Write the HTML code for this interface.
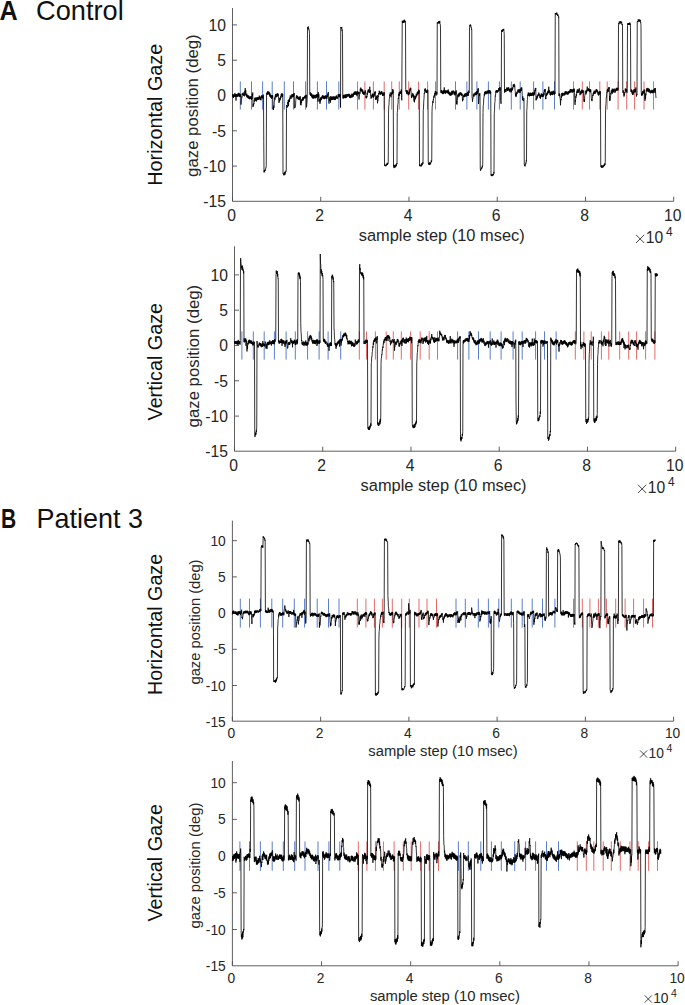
<!DOCTYPE html>
<html><head><meta charset="utf-8"><title>Gaze traces</title>
<style>
html,body{margin:0;padding:0;background:#fff;}
body{width:685px;height:1005px;overflow:hidden;font-family:"Liberation Sans",sans-serif;}
svg{display:block;}
text{font-family:"Liberation Sans",sans-serif;}
</style></head><body>
<svg width="685" height="1005" viewBox="0 0 685 1005">
<rect width="685" height="1005" fill="#fff"/>
<text x="-0.4" y="20.1" font-size="27.5" font-weight="bold" fill="#111" textLength="18.2" lengthAdjust="spacingAndGlyphs">A</text>
<text x="36.1" y="20.1" font-size="28" fill="#111" textLength="87.6" lengthAdjust="spacingAndGlyphs">Control</text>
<text x="1.1" y="527.6" font-size="27" font-weight="bold" fill="#111" textLength="15.2" lengthAdjust="spacingAndGlyphs">B</text>
<text x="36.5" y="527.6" font-size="27.5" fill="#111" textLength="106.4" lengthAdjust="spacingAndGlyphs">Patient 3</text>
<g id="p1">
<path d="M232.50,8.00 V201.30 H673.70" fill="none" stroke="#4d4d4d" stroke-width="0.9"/>
<path d="M232.50,24.90 h4.5 M232.50,60.20 h4.5 M232.50,95.50 h4.5 M232.50,130.80 h4.5 M232.50,166.10 h4.5 M232.50,201.30 v-4.5 M320.74,201.30 v-4.5 M408.98,201.30 v-4.5 M497.22,201.30 v-4.5 M585.46,201.30 v-4.5 M673.70,201.30 v-4.5 " fill="none" stroke="#4d4d4d" stroke-width="0.9"/>
<text x="225.9" y="30.6" font-size="15.7" fill="#262626" text-anchor="end">10</text>
<text x="225.9" y="65.9" font-size="15.7" fill="#262626" text-anchor="end">5</text>
<text x="225.9" y="101.2" font-size="15.7" fill="#262626" text-anchor="end">0</text>
<text x="225.9" y="136.5" font-size="15.7" fill="#262626" text-anchor="end">-5</text>
<text x="225.9" y="171.8" font-size="15.7" fill="#262626" text-anchor="end">-10</text>
<text x="225.9" y="207.1" font-size="15.7" fill="#262626" text-anchor="end">-15</text>
<text x="231.5" y="221.3" font-size="15.7" fill="#262626" text-anchor="middle">0</text>
<text x="319.7" y="221.3" font-size="15.7" fill="#262626" text-anchor="middle">2</text>
<text x="408.0" y="221.3" font-size="15.7" fill="#262626" text-anchor="middle">4</text>
<text x="496.2" y="221.3" font-size="15.7" fill="#262626" text-anchor="middle">6</text>
<text x="584.5" y="221.3" font-size="15.7" fill="#262626" text-anchor="middle">8</text>
<text x="672.7" y="221.3" font-size="15.7" fill="#262626" text-anchor="middle">10</text>
<path d="M636.0,234.8 l8.2,8.2 M636.0,243.0 l8.2,-8.2" stroke="#262626" stroke-width="0.85" fill="none"/>
<text x="645.8" y="243.0" font-size="15.7" fill="#262626">10</text>
<text x="666.1" y="236.4" font-size="11.9" fill="#262626">4</text>
<text x="441.7" y="241.0" font-size="16.3" fill="#262626" text-anchor="middle" textLength="166" lengthAdjust="spacingAndGlyphs">sample step (10 msec)</text>
<text transform="translate(197.6,105.6) rotate(-90)" font-size="16.3" fill="#262626" text-anchor="middle" textLength="142.6" lengthAdjust="spacingAndGlyphs">gaze position (deg)</text>
<text transform="translate(162.1,114.7) rotate(-90)" font-size="19.8" fill="#111" text-anchor="middle" textLength="142" lengthAdjust="spacingAndGlyphs">Horizontal Gaze</text>
<path d="M240.3,81.4 V109.6 M251.5,81.4 V109.6 M262.6,81.4 V109.6 M272.2,81.4 V109.6 M284.3,81.4 V109.6 M293.5,81.4 V109.6 M305.6,81.4 V109.6 M317.4,81.4 V109.6 M326.5,81.4 V109.6 M338.8,81.4 V109.6 M455.5,81.4 V109.6 M466.9,81.4 V109.6 M476.9,81.4 V109.6 M488.4,81.4 V109.6 M499.4,81.4 V109.6 M511.3,81.4 V109.6 M520.2,81.4 V109.6 M533.6,81.4 V109.6 M542.9,81.4 V109.6 M554.5,81.4 V109.6 " fill="none" stroke="#5a7fcb" stroke-width="1.0"/>
<path d="M357.5,81.4 V109.6 M364.9,81.4 V109.6 M373.4,81.4 V109.6 M384.2,81.4 V109.6 M391.7,81.4 V109.6 M399.3,81.4 V109.6 M408.7,81.4 V109.6 M418.6,81.4 V109.6 M427.6,81.4 V109.6 M435.5,81.4 V109.6 M573.5,81.4 V109.6 M582.3,81.4 V109.6 M589.5,81.4 V109.6 M599.8,81.4 V109.6 M607.2,81.4 V109.6 M618.1,81.4 V109.6 M626.7,81.4 V109.6 M634.6,81.4 V109.6 M644.0,81.4 V109.6 M653.5,81.4 V109.6 " fill="none" stroke="#e66a68" stroke-width="1.0"/>
<path d="M232.50,97.1 232.75,94.2 233.00,96.6 233.25,94.5 233.50,98.0 233.75,95.1 234.00,97.0 234.25,94.5 234.50,96.7 234.75,93.2 235.00,96.5 235.25,93.8 235.50,97.0 235.75,94.1 236.00,100.6 236.25,94.1 236.50,96.8 236.75,94.5 237.00,96.7 237.25,94.0 237.50,96.5 237.75,93.9 238.00,96.8 238.25,92.8 238.50,95.9 238.75,93.6 239.00,95.7 239.25,93.1 239.50,96.8 239.75,94.0 240.00,96.8 240.25,93.9 240.50,96.4 240.75,94.3 241.00,104.6 241.25,100.8 241.50,100.8 241.75,96.6 242.00,97.3 242.25,93.4 242.50,94.9 242.75,92.9 243.00,95.3 243.25,95.5 243.50,95.8 243.75,92.5 244.00,95.5 244.25,93.8 244.50,96.3 244.75,90.8 245.00,92.7 245.25,88.1 245.50,94.7 245.75,90.2 246.00,95.6 246.25,93.9 246.50,96.5 246.75,93.7 247.00,97.4 247.25,94.9 247.50,97.3 247.75,95.1 248.00,98.2 248.25,95.8 248.50,98.2 248.75,95.6 249.00,98.8 249.25,97.0 249.50,99.2 249.75,96.3 250.00,99.1 250.25,97.1 250.50,98.9 250.75,96.5 251.00,99.1 251.25,96.0 251.50,99.7 251.75,96.6 252.00,99.0 252.25,93.7 252.50,95.9 252.75,92.5 253.00,107.1 253.25,103.8 253.50,105.8 253.75,103.7 254.00,104.0 254.25,100.1 254.50,101.5 254.75,97.9 255.00,100.6 255.25,97.5 255.50,100.4 255.75,98.1 256.00,101.2 256.25,98.6 256.50,101.4 256.75,97.5 257.00,100.2 257.25,97.0 257.50,99.8 257.75,97.5 258.00,99.8 258.25,97.5 258.50,99.7 258.75,97.2 259.00,98.7 259.25,95.6 259.50,99.0 259.75,96.5 260.00,99.9 260.25,97.8 260.50,100.0 260.75,97.0 261.00,100.3 261.25,96.0 261.50,97.9 261.75,95.2 262.00,97.9 262.25,95.7 262.50,98.1 262.75,96.0 263.00,98.7 263.25,94.6 263.50,96.7 263.75,141.4 264.00,172.4 264.25,170.7 264.50,172.1 264.75,169.9 265.00,171.0 265.25,169.8 265.50,170.2 265.75,167.8 266.00,167.9 266.25,165.5 266.50,94.8 266.75,93.0 267.00,94.9 267.25,92.0 267.50,94.6 267.75,91.1 268.00,93.9 268.25,92.1 268.50,93.7 268.75,91.5 269.00,94.7 269.25,92.2 269.50,95.7 269.75,93.4 270.00,96.8 270.25,93.7 270.50,97.5 270.75,95.0 271.00,97.2 271.25,95.3 271.50,98.7 271.75,95.6 272.00,98.4 272.25,95.4 272.50,97.3 272.75,95.5 273.00,109.2 273.25,107.5 273.50,109.9 273.75,105.7 274.00,107.6 274.25,101.4 274.50,101.4 274.75,97.4 275.00,99.6 275.25,95.6 275.50,97.3 275.75,94.1 276.00,97.4 276.25,93.8 276.50,96.8 276.75,95.2 277.00,96.9 277.25,93.6 277.50,96.0 277.75,93.2 278.00,96.1 278.25,94.1 278.50,96.8 278.75,100.5 279.00,102.9 279.25,99.5 279.50,101.5 279.75,98.0 280.00,100.3 280.25,97.3 280.50,99.3 280.75,95.8 281.00,97.7 281.25,93.9 281.50,96.3 281.75,93.5 282.00,95.7 282.25,93.5 282.50,97.0 282.75,94.2 283.00,173.6 283.25,173.2 283.50,174.6 283.75,173.6 284.00,175.4 284.25,173.1 284.50,174.3 284.75,171.8 285.00,174.7 285.25,172.2 285.50,172.8 285.75,170.9 286.00,171.5 286.25,169.0 286.50,108.5 286.75,105.0 287.00,107.7 287.25,105.6 287.50,106.9 287.75,102.1 288.00,104.1 288.25,100.1 288.50,106.2 288.75,99.8 289.00,101.9 289.25,99.1 289.50,101.9 289.75,97.7 290.00,99.1 290.25,95.5 290.50,97.9 290.75,97.7 291.00,99.0 291.25,95.5 291.50,97.5 291.75,94.5 292.00,97.5 292.25,94.2 292.50,97.1 292.75,94.0 293.00,97.1 293.25,94.3 293.50,96.6 293.75,93.6 294.00,95.8 294.25,93.2 294.50,108.2 294.75,107.1 295.00,107.3 295.25,107.5 295.50,106.8 295.75,100.8 296.00,98.4 296.25,96.5 296.50,98.1 296.75,95.1 297.00,98.4 297.25,96.5 297.50,99.0 297.75,96.1 298.00,99.2 298.25,97.2 298.50,99.6 298.75,97.2 299.00,99.8 299.25,97.1 299.50,100.1 299.75,96.6 300.00,99.9 300.25,96.4 300.50,104.9 300.75,100.6 301.00,105.3 301.25,100.7 301.50,102.9 301.75,99.2 302.00,101.0 302.25,98.7 302.50,100.7 302.75,97.3 303.00,100.6 303.25,97.2 303.50,99.7 303.75,97.0 304.00,98.3 304.25,96.7 304.50,98.3 304.75,95.8 305.00,98.2 305.25,95.8 305.50,98.0 305.75,95.3 306.00,98.3 306.25,94.8 306.50,107.3 306.75,104.6 307.00,102.6 307.25,97.4 307.50,28.2 307.75,27.1 308.00,28.8 308.25,26.5 308.50,29.3 308.75,28.5 309.00,30.4 309.25,30.2 309.50,33.5 309.75,92.4 310.00,94.6 310.25,92.2 310.50,95.7 310.75,93.7 311.00,95.6 311.25,93.4 311.50,96.6 311.75,93.8 312.00,97.6 312.25,94.7 312.50,98.1 312.75,95.9 313.00,98.7 313.25,94.7 313.50,98.2 313.75,95.5 314.00,98.2 314.25,95.2 314.50,98.2 314.75,94.9 315.00,96.8 315.25,95.1 315.50,98.3 315.75,95.1 316.00,97.8 316.25,94.6 316.50,97.6 316.75,94.2 317.00,96.8 317.25,94.0 317.50,96.6 317.75,94.4 318.00,101.7 318.25,92.0 318.50,97.6 318.75,93.9 319.00,95.2 319.25,100.0 319.50,101.5 319.75,99.0 320.00,103.8 320.25,99.0 320.50,101.4 320.75,97.4 321.00,100.1 321.25,97.2 321.50,99.9 321.75,96.7 322.00,98.6 322.25,95.7 322.50,97.7 322.75,95.3 323.00,98.4 323.25,95.7 323.50,98.7 323.75,96.2 324.00,98.3 324.25,95.9 324.50,99.2 324.75,96.1 325.00,98.7 325.25,95.6 325.50,98.4 325.75,95.5 326.00,98.3 326.25,96.0 326.50,97.8 326.75,95.6 327.00,98.7 327.25,95.2 327.50,96.8 327.75,93.6 328.00,95.1 328.25,92.0 328.50,94.5 328.75,101.1 329.00,103.6 329.25,98.8 329.50,100.9 329.75,97.4 330.00,99.0 330.25,96.5 330.50,102.7 330.75,96.4 331.00,99.3 331.25,97.6 331.50,100.1 331.75,96.6 332.00,99.6 332.25,97.0 332.50,100.0 332.75,96.6 333.00,99.2 333.25,96.6 333.50,99.4 333.75,96.7 334.00,99.6 334.25,96.5 334.50,100.0 334.75,96.9 335.00,100.1 335.25,97.2 335.50,99.7 335.75,96.4 336.00,98.6 336.25,95.7 336.50,98.4 336.75,95.5 337.00,97.8 337.25,96.9 337.50,98.9 337.75,98.8 338.00,97.1 338.25,94.1 338.50,97.1 338.75,94.5 339.00,96.3 339.25,94.0 339.50,97.2 339.75,94.4 340.00,97.1 340.25,94.5 340.50,107.5 340.75,27.1 341.00,27.9 341.25,27.0 341.50,28.5 341.75,27.1 342.00,30.6 342.25,29.7 342.50,33.3 342.75,96.6 343.00,98.6 343.25,95.4 343.50,98.3 343.75,94.8 344.00,97.6 344.25,95.4 344.50,98.1 344.75,95.0 345.00,97.1 345.25,94.2 345.50,98.2 345.75,95.0 346.00,97.7 346.25,96.0 346.50,97.7 346.75,94.0 347.00,96.9 347.25,94.3 347.50,96.2 347.75,94.2 348.00,96.6 348.25,94.2 348.50,95.6 348.75,93.8 349.00,96.5 349.25,93.9 349.50,97.6 349.75,94.9 350.00,97.8 350.25,95.3 350.50,98.1 350.75,95.5 351.00,97.4 351.25,94.6 351.50,97.5 351.75,93.7 352.00,94.6 352.25,93.8 352.50,97.3 352.75,94.3 353.00,96.9 353.25,93.7 353.50,95.6 353.75,92.8 354.00,94.5 354.25,91.7 354.50,95.0 354.75,91.9 355.00,94.8 355.25,91.5 355.50,94.0 355.75,91.6 356.00,95.0 356.25,92.1 356.50,94.8 356.75,91.7 357.00,96.2 357.25,91.1 357.50,93.9 357.75,91.9 358.00,94.5 358.25,92.2 358.50,93.7 358.75,91.8 359.00,99.5 359.25,95.7 359.50,95.9 359.75,92.1 360.00,93.6 360.25,88.8 360.50,91.3 360.75,87.6 361.00,91.0 361.25,88.7 361.50,91.1 361.75,89.3 362.00,92.1 362.25,89.7 362.50,93.3 362.75,89.7 363.00,94.0 363.25,91.6 363.50,94.3 363.75,92.4 364.00,94.9 364.25,91.7 364.50,94.3 364.75,92.2 365.00,93.5 365.25,90.2 365.50,92.9 365.75,92.5 366.00,98.2 366.25,96.0 366.50,98.2 366.75,96.3 367.00,97.1 367.25,92.9 367.50,94.6 367.75,90.8 368.00,92.3 368.25,89.5 368.50,91.9 368.75,89.6 369.00,92.6 369.25,89.9 369.50,92.9 369.75,86.7 370.00,92.5 370.25,90.0 370.50,95.9 370.75,96.9 371.00,98.6 371.25,97.8 371.50,98.1 371.75,95.0 372.00,97.5 372.25,93.7 372.50,96.4 372.75,93.8 373.00,96.8 373.25,94.4 373.50,97.6 373.75,94.4 374.00,96.6 374.25,93.1 374.50,95.3 374.75,91.9 375.00,94.0 375.25,91.2 375.50,99.6 375.75,98.0 376.00,99.7 376.25,97.1 376.50,99.2 376.75,96.0 377.00,98.2 377.25,95.1 377.50,103.3 377.75,99.8 378.00,100.5 378.25,95.9 378.50,96.8 378.75,93.0 379.00,94.4 379.25,90.7 379.50,93.5 379.75,91.7 380.00,94.5 380.25,92.3 380.50,94.5 380.75,92.3 381.00,94.1 381.25,91.4 381.50,94.2 381.75,91.1 382.00,94.1 382.25,92.5 382.50,95.8 382.75,93.0 383.00,95.8 383.25,93.8 383.50,95.3 383.75,92.5 384.00,95.4 384.25,92.3 384.50,165.6 384.75,164.7 385.00,165.9 385.25,165.0 385.50,166.2 385.75,165.4 386.00,166.2 386.25,163.9 386.50,165.3 386.75,163.8 387.00,165.0 387.25,162.9 387.50,165.0 387.75,162.9 388.00,163.5 388.25,161.9 388.50,114.2 388.75,106.0 389.00,104.5 389.25,98.5 389.50,98.4 389.75,94.4 390.00,96.0 390.25,92.5 390.50,94.2 390.75,94.5 391.00,97.2 391.25,92.7 391.50,95.1 391.75,92.7 392.00,94.5 392.25,91.9 392.50,93.5 392.75,89.0 393.00,93.1 393.25,90.4 393.50,166.4 393.75,164.9 394.00,168.1 394.25,164.9 394.50,167.0 394.75,165.7 395.00,167.7 395.25,165.8 395.50,167.0 395.75,164.7 396.00,166.4 396.25,164.3 396.50,165.8 396.75,163.2 397.00,164.1 397.25,112.7 397.50,110.8 397.75,104.8 398.00,104.1 398.25,98.1 398.50,98.7 398.75,93.8 399.00,96.0 399.25,92.2 399.50,95.3 399.75,91.9 400.00,93.9 400.25,91.4 400.50,93.9 400.75,91.4 401.00,92.7 401.25,89.4 401.50,92.2 401.75,100.3 402.00,59.3 402.25,20.7 402.50,23.0 402.75,21.2 403.00,21.9 403.25,21.0 403.50,22.8 403.75,20.4 404.00,21.6 404.25,19.7 404.50,22.3 404.75,20.4 405.00,22.4 405.25,21.0 405.50,23.9 405.75,89.6 406.00,91.6 406.25,90.1 406.50,93.5 406.75,90.8 407.00,94.2 407.25,90.5 407.50,93.4 407.75,90.8 408.00,94.3 408.25,95.3 408.50,94.4 408.75,92.0 409.00,94.7 409.25,91.6 409.50,93.8 409.75,89.3 410.00,91.2 410.25,87.8 410.50,90.1 410.75,87.8 411.00,90.5 411.25,95.2 411.50,98.1 411.75,95.3 412.00,97.3 412.25,94.1 412.50,95.8 412.75,92.9 413.00,96.4 413.25,94.4 413.50,97.6 413.75,95.0 414.00,101.4 414.25,95.9 414.50,102.3 414.75,98.3 415.00,99.6 415.25,96.1 415.50,98.8 415.75,95.8 416.00,97.5 416.25,93.8 416.50,96.3 416.75,93.9 417.00,95.5 417.25,92.1 417.50,94.2 417.75,91.5 418.00,94.3 418.25,91.5 418.50,93.3 418.75,89.7 419.00,93.7 419.25,90.3 419.50,166.0 419.75,164.4 420.00,166.2 420.25,165.4 420.50,166.0 420.75,164.8 421.00,166.6 421.25,165.1 421.50,166.0 421.75,163.3 422.00,165.2 422.25,163.4 422.50,164.6 422.75,162.3 423.00,163.6 423.25,110.3 423.50,108.0 423.75,100.9 424.00,98.7 424.25,93.0 424.50,93.7 424.75,89.2 425.00,90.9 425.25,88.3 425.50,91.6 425.75,89.7 426.00,92.7 426.25,90.4 426.50,92.6 426.75,90.9 427.00,92.8 427.25,89.8 427.50,92.9 427.75,89.9 428.00,92.7 428.25,162.1 428.50,164.2 428.75,162.9 429.00,164.9 429.25,163.0 429.50,164.6 429.75,162.1 430.00,164.8 430.25,162.9 430.50,164.1 430.75,162.6 431.00,162.9 431.25,160.4 431.50,161.9 431.75,160.3 432.00,111.7 432.25,105.6 432.50,105.6 432.75,101.2 433.00,102.9 433.25,99.5 433.50,100.3 433.75,96.3 434.00,97.8 434.25,95.0 434.50,96.3 434.75,93.0 435.00,95.2 435.25,91.2 435.50,93.9 435.75,91.0 436.00,94.3 436.25,95.4 436.50,94.2 436.75,92.0 437.00,94.6 437.25,22.4 437.50,23.3 437.75,22.6 438.00,23.7 438.25,21.9 438.50,23.2 438.75,21.2 439.00,22.8 439.25,21.2 439.50,23.4 439.75,20.9 440.00,23.6 440.25,24.1 440.50,27.1 440.75,91.4 441.00,93.0 441.25,90.1 441.50,93.2 441.75,90.0 442.00,93.0 442.25,91.0 442.50,94.0 442.75,91.3 443.00,94.1 443.25,91.0 443.50,93.8 443.75,90.0 444.00,93.3 444.25,87.4 444.50,93.2 444.75,90.3 445.00,92.7 445.25,90.2 445.50,93.8 445.75,90.9 446.00,92.7 446.25,90.7 446.50,92.6 446.75,90.6 447.00,93.2 447.25,90.7 447.50,92.6 447.75,90.3 448.00,93.4 448.25,89.5 448.50,94.2 448.75,91.0 449.00,93.9 449.25,92.6 449.50,95.3 449.75,92.2 450.00,94.8 450.25,92.6 450.50,95.6 450.75,92.8 451.00,95.6 451.25,93.2 451.50,94.8 451.75,90.9 452.00,93.6 452.25,90.9 452.50,94.6 452.75,91.7 453.00,93.2 453.25,90.4 453.50,93.0 453.75,91.8 454.00,94.3 454.25,91.5 454.50,95.0 454.75,92.5 455.00,95.4 455.25,91.5 455.50,94.3 455.75,91.7 456.00,94.0 456.25,90.4 456.50,104.0 456.75,100.9 457.00,104.6 457.25,98.8 457.50,99.4 457.75,94.8 458.00,97.3 458.25,93.8 458.50,96.1 458.75,93.5 459.00,96.7 459.25,93.5 459.50,95.6 459.75,92.7 460.00,95.0 460.25,92.4 460.50,94.4 460.75,92.5 461.00,95.3 461.25,92.9 461.50,95.7 461.75,93.3 462.00,95.5 462.25,94.0 462.50,101.3 462.75,98.6 463.00,100.2 463.25,96.5 463.50,97.2 463.75,94.9 464.00,97.3 464.25,94.6 464.50,96.8 464.75,93.8 465.00,96.4 465.25,93.4 465.50,96.3 465.75,93.8 466.00,96.4 466.25,93.1 466.50,96.3 466.75,93.2 467.00,96.0 467.25,92.8 467.50,95.6 467.75,91.8 468.00,94.9 468.25,92.3 468.50,95.7 468.75,90.6 469.00,93.0 469.25,90.1 469.50,27.6 469.75,25.4 470.00,26.2 470.25,24.5 470.50,26.2 470.75,24.9 471.00,27.4 471.25,27.0 471.50,29.6 471.75,29.0 472.00,96.4 472.25,98.4 472.50,101.7 472.75,98.5 473.00,98.7 473.25,94.6 473.50,96.4 473.75,93.6 474.00,95.5 474.25,96.4 474.50,95.5 474.75,93.4 475.00,94.9 475.25,92.4 475.50,95.2 475.75,92.6 476.00,95.1 476.25,91.9 476.50,94.8 476.75,91.0 477.00,94.3 477.25,91.5 477.50,94.0 477.75,89.4 478.00,92.0 478.25,88.1 478.50,104.0 478.75,101.7 479.00,98.0 479.25,94.0 479.50,96.0 479.75,93.0 480.00,95.8 480.25,168.3 480.50,170.7 480.75,169.0 481.00,169.5 481.25,168.0 481.50,168.7 481.75,167.4 482.00,168.3 482.25,165.8 482.50,166.9 482.75,163.9 483.00,112.5 483.25,105.4 483.50,103.9 483.75,98.2 484.00,98.1 484.25,94.0 484.50,95.5 484.75,92.0 485.00,94.2 485.25,91.1 485.50,93.8 485.75,91.3 486.00,94.3 486.25,91.8 486.50,94.0 486.75,91.6 487.00,93.6 487.25,90.7 487.50,93.4 487.75,90.7 488.00,92.9 488.25,90.6 488.50,93.5 488.75,90.3 489.00,92.9 489.25,90.1 489.50,92.9 489.75,90.9 490.00,94.0 490.25,90.6 490.50,93.5 490.75,91.7 491.00,175.5 491.25,174.5 491.50,175.9 491.75,174.4 492.00,176.2 492.25,175.1 492.50,175.8 492.75,173.9 493.00,175.6 493.25,174.0 493.50,175.0 493.75,172.1 494.00,173.4 494.25,113.7 494.50,110.8 494.75,103.1 495.00,101.7 495.25,95.7 495.50,96.4 495.75,91.4 496.00,92.7 496.25,90.0 496.50,92.1 496.75,90.0 497.00,92.8 497.25,90.4 497.50,92.4 497.75,90.2 498.00,92.0 498.25,90.2 498.50,91.1 498.75,88.2 499.00,90.8 499.25,88.0 499.50,90.2 499.75,87.2 500.00,90.4 500.25,87.5 500.50,100.5 500.75,100.6 501.00,103.8 501.25,98.0 501.50,32.2 501.75,30.1 502.00,31.9 502.25,29.7 502.50,31.6 502.75,29.7 503.00,30.6 503.25,29.0 503.50,30.4 503.75,28.8 504.00,31.5 504.25,34.2 504.50,92.7 504.75,89.2 505.00,91.5 505.25,89.1 505.50,92.0 505.75,89.2 506.00,91.8 506.25,89.3 506.50,90.0 506.75,87.5 507.00,90.2 507.25,88.1 507.50,91.0 507.75,87.8 508.00,89.7 508.25,87.4 508.50,90.2 508.75,87.5 509.00,90.9 509.25,89.4 509.50,91.3 509.75,88.8 510.00,92.2 510.25,88.9 510.50,91.0 510.75,88.2 511.00,92.3 511.25,89.3 511.50,91.7 511.75,88.3 512.00,90.0 512.25,87.4 512.50,90.4 512.75,87.8 513.00,88.2 513.25,84.6 513.50,86.9 513.75,84.5 514.00,86.9 514.25,83.9 514.50,87.1 514.75,85.4 515.00,90.3 515.25,91.5 515.50,96.0 515.75,93.7 516.00,97.1 516.25,93.3 516.50,95.6 516.75,91.8 517.00,94.0 517.25,93.5 517.50,92.6 517.75,90.3 518.00,92.2 518.25,89.2 518.50,92.3 518.75,90.1 519.00,92.4 519.25,89.4 519.50,92.6 519.75,89.1 520.00,91.7 520.25,92.7 520.50,91.5 520.75,88.6 521.00,90.9 521.25,87.5 521.50,90.6 521.75,87.5 522.00,90.2 522.25,95.5 522.50,100.2 522.75,96.4 523.00,100.2 523.25,99.7 523.50,101.2 523.75,98.2 524.00,99.7 524.25,164.0 524.50,165.7 524.75,164.4 525.00,166.4 525.25,165.1 525.50,164.9 525.75,162.8 526.00,163.4 526.25,160.4 526.50,161.3 526.75,110.6 527.00,107.7 527.25,100.7 527.50,99.4 527.75,94.6 528.00,95.9 528.25,92.5 528.50,95.4 528.75,92.8 529.00,95.9 529.25,93.7 529.50,96.4 529.75,93.2 530.00,95.7 530.25,92.6 530.50,95.8 530.75,93.5 531.00,95.9 531.25,93.1 531.50,95.9 531.75,92.9 532.00,95.9 532.25,93.1 532.50,95.1 532.75,92.3 533.00,95.5 533.25,92.8 533.50,95.6 533.75,92.6 534.00,95.3 534.25,91.9 534.50,94.6 534.75,90.1 535.00,91.5 535.25,88.4 535.50,91.0 535.75,87.9 536.00,100.4 536.25,98.3 536.50,99.6 536.75,96.3 537.00,98.8 537.25,95.6 537.50,97.5 537.75,94.5 538.00,96.2 538.25,94.9 538.50,95.2 538.75,92.5 539.00,95.5 539.25,93.8 539.50,96.4 539.75,96.3 540.00,98.1 540.25,95.3 540.50,98.7 540.75,94.8 541.00,96.9 541.25,93.5 541.50,96.4 541.75,93.8 542.00,96.6 542.25,94.3 542.50,97.1 542.75,94.6 543.00,97.0 543.25,94.1 543.50,96.2 543.75,92.6 544.00,95.2 544.25,90.2 544.50,91.7 544.75,89.2 545.00,91.4 545.25,89.1 545.50,99.1 545.75,97.9 546.00,98.9 546.25,94.6 546.50,96.0 546.75,93.0 547.00,95.2 547.25,92.2 547.50,94.3 547.75,91.1 548.00,93.6 548.25,90.5 548.50,92.9 548.75,86.8 549.00,92.8 549.25,90.1 549.50,92.7 549.75,91.3 550.00,94.9 550.25,92.7 550.50,95.5 550.75,91.9 551.00,94.9 551.25,92.1 551.50,94.6 551.75,91.4 552.00,94.6 552.25,91.7 552.50,95.1 552.75,91.6 553.00,94.1 553.25,90.7 553.50,93.5 553.75,91.3 554.00,94.7 554.25,92.4 554.50,94.5 554.75,91.4 555.00,94.0 555.25,13.2 555.50,14.4 555.75,13.4 556.00,13.9 556.25,13.0 556.50,14.8 556.75,12.5 557.00,14.1 557.25,14.1 557.50,15.9 557.75,14.2 558.00,15.7 558.25,15.4 558.50,17.5 558.75,16.7 559.00,96.0 559.25,93.4 559.50,96.2 559.75,94.0 560.00,98.7 560.25,98.8 560.50,105.3 560.75,98.8 561.00,100.3 561.25,96.0 561.50,97.7 561.75,93.4 562.00,96.4 562.25,92.9 562.50,95.9 562.75,92.8 563.00,95.7 563.25,93.5 563.50,93.4 563.75,93.2 564.00,95.3 564.25,93.1 564.50,95.3 564.75,92.3 565.00,95.1 565.25,91.1 565.50,93.7 565.75,91.8 566.00,94.1 566.25,91.2 566.50,93.8 566.75,91.9 567.00,94.5 567.25,92.1 567.50,94.5 567.75,92.0 568.00,94.1 568.25,91.0 568.50,94.3 568.75,91.8 569.00,93.0 569.25,90.9 569.50,93.1 569.75,90.5 570.00,92.9 570.25,89.1 570.50,92.2 570.75,89.2 571.00,92.4 571.25,89.2 571.50,91.5 571.75,89.5 572.00,92.4 572.25,89.7 572.50,92.4 572.75,89.5 573.00,91.6 573.25,89.7 573.50,92.1 573.75,88.8 574.00,91.9 574.25,88.7 574.50,92.4 574.75,101.4 575.00,104.9 575.25,100.2 575.50,101.6 575.75,96.2 576.00,97.7 576.25,94.1 576.50,96.0 576.75,91.5 577.00,93.1 577.25,89.5 577.50,92.3 577.75,89.8 578.00,92.6 578.25,89.8 578.50,92.6 578.75,89.5 579.00,91.5 579.25,88.3 579.50,91.1 579.75,91.4 580.00,95.2 580.25,91.5 580.50,94.1 580.75,91.6 581.00,94.2 581.25,90.5 581.50,92.9 581.75,89.7 582.00,93.1 582.25,90.6 582.50,93.0 582.75,90.1 583.00,92.7 583.25,90.5 583.50,93.0 583.75,99.6 584.00,101.7 584.25,99.0 584.50,101.8 584.75,95.5 585.00,95.1 585.25,90.7 585.50,91.9 585.75,92.1 586.00,94.4 586.25,90.6 586.50,93.1 586.75,89.7 587.00,91.4 587.25,86.5 587.50,90.6 587.75,90.7 588.00,90.5 588.25,88.1 588.50,90.8 588.75,89.0 589.00,91.3 589.25,88.9 589.50,92.0 589.75,89.0 590.00,92.1 590.25,89.3 590.50,92.4 590.75,89.7 591.00,92.3 591.25,97.0 591.50,100.3 591.75,99.1 592.00,101.1 592.25,99.7 592.50,98.5 592.75,94.7 593.00,96.0 593.25,92.9 593.50,94.5 593.75,91.8 594.00,93.5 594.25,90.6 594.50,94.0 594.75,91.0 595.00,94.0 595.25,90.9 595.50,92.5 595.75,90.5 596.00,92.4 596.25,89.0 596.50,92.0 596.75,89.2 597.00,91.9 597.25,90.2 597.50,92.7 597.75,91.2 598.00,94.6 598.25,92.4 598.50,95.5 598.75,92.4 599.00,94.3 599.25,91.4 599.50,94.4 599.75,91.3 600.00,94.3 600.25,91.3 600.50,93.4 600.75,165.5 601.00,167.1 601.25,165.4 601.50,167.7 601.75,165.4 602.00,167.4 602.25,165.9 602.50,167.5 602.75,166.2 603.00,167.4 603.25,165.0 603.50,166.8 603.75,165.3 604.00,166.2 604.25,164.2 604.50,165.9 604.75,163.4 605.00,165.0 605.25,162.7 605.50,114.1 605.75,106.1 606.00,103.8 606.25,97.0 606.50,97.2 606.75,92.5 607.00,93.0 607.25,89.5 607.50,91.7 607.75,88.8 608.00,91.9 608.25,89.8 608.50,91.4 608.75,87.4 609.00,89.1 609.25,87.1 609.50,100.7 609.75,96.2 610.00,100.7 610.25,97.7 610.50,97.6 610.75,92.9 611.00,94.5 611.25,90.6 611.50,92.9 611.75,90.1 612.00,92.2 612.25,88.6 612.50,93.6 612.75,89.7 613.00,91.8 613.25,89.2 613.50,92.2 613.75,88.8 614.00,91.8 614.25,92.7 614.50,91.7 614.75,88.7 615.00,91.7 615.25,89.7 615.50,92.4 615.75,89.3 616.00,91.0 616.25,88.2 616.50,90.3 616.75,87.8 617.00,90.7 617.25,87.9 617.50,90.1 617.75,87.9 618.00,90.5 618.25,88.6 618.50,24.5 618.75,23.1 619.00,24.3 619.25,21.5 619.50,22.8 619.75,22.4 620.00,23.5 620.25,21.3 620.50,22.5 620.75,21.4 621.00,23.5 621.25,21.6 621.50,23.1 621.75,22.4 622.00,24.8 622.25,24.0 622.50,26.1 622.75,89.6 623.00,92.9 623.25,90.4 623.50,92.9 623.75,95.0 624.00,96.6 624.25,93.4 624.50,95.3 624.75,92.0 625.00,92.9 625.25,88.7 625.50,91.1 625.75,88.6 626.00,91.7 626.25,89.3 626.50,91.7 626.75,89.7 627.00,92.7 627.25,84.8 627.50,25.7 627.75,23.4 628.00,25.0 628.25,23.1 628.50,24.8 628.75,23.2 629.00,23.8 629.25,23.1 629.50,24.9 629.75,22.5 630.00,24.9 630.25,23.6 630.50,27.2 630.75,89.1 631.00,91.9 631.25,89.3 631.50,92.0 631.75,90.4 632.00,93.5 632.25,90.5 632.50,94.7 632.75,92.2 633.00,94.8 633.25,92.2 633.50,93.6 633.75,89.6 634.00,92.2 634.25,89.6 634.50,92.1 634.75,89.1 635.00,92.6 635.25,89.7 635.50,91.6 635.75,87.5 636.00,89.5 636.25,93.9 636.50,96.5 636.75,94.2 637.00,94.9 637.25,21.2 637.50,21.6 637.75,21.1 638.00,22.1 638.25,19.3 638.50,21.0 638.75,20.2 639.00,21.6 639.25,19.7 639.50,20.6 639.75,19.5 640.00,21.9 640.25,20.1 640.50,22.6 640.75,22.2 641.00,25.2 641.25,92.0 641.50,95.5 641.75,93.2 642.00,95.7 642.25,92.5 642.50,95.0 642.75,91.1 643.00,93.5 643.25,90.9 643.50,93.1 643.75,90.6 644.00,93.6 644.25,89.4 644.50,91.9 644.75,98.0 645.00,100.8 645.25,93.4 645.50,99.1 645.75,94.5 646.00,95.1 646.25,89.7 646.50,91.4 646.75,88.3 647.00,91.4 647.25,88.8 647.50,91.1 647.75,87.9 648.00,91.5 648.25,88.4 648.50,91.8 648.75,89.4 649.00,92.3 649.25,88.8 649.50,92.2 649.75,90.1 650.00,92.5 650.25,90.4 650.50,93.4 650.75,91.0 651.00,92.4 651.25,90.9 651.50,93.0 651.75,89.8 652.00,92.8 652.25,90.3 652.50,93.2 652.75,90.3 653.00,93.1 653.25,89.9 653.50,92.3 653.75,89.4 654.00,92.2 654.25,90.0 654.50,91.0 654.75,88.2 655.00,93.0 655.25,88.0 655.50,91.3 655.75,95.1 656.00,98.0" fill="none" stroke="#000" stroke-width="0.8" stroke-linejoin="round"/>
</g>
<g id="p2">
<path d="M234.50,246.30 V451.20 H675.70" fill="none" stroke="#4d4d4d" stroke-width="0.9"/>
<path d="M234.50,274.90 h4.5 M234.50,310.20 h4.5 M234.50,345.50 h4.5 M234.50,380.80 h4.5 M234.50,416.10 h4.5 M234.50,451.20 v-4.5 M322.74,451.20 v-4.5 M410.98,451.20 v-4.5 M499.22,451.20 v-4.5 M587.46,451.20 v-4.5 M675.70,451.20 v-4.5 " fill="none" stroke="#4d4d4d" stroke-width="0.9"/>
<text x="227.9" y="280.6" font-size="15.7" fill="#262626" text-anchor="end">10</text>
<text x="227.9" y="315.9" font-size="15.7" fill="#262626" text-anchor="end">5</text>
<text x="227.9" y="351.2" font-size="15.7" fill="#262626" text-anchor="end">0</text>
<text x="227.9" y="386.5" font-size="15.7" fill="#262626" text-anchor="end">-5</text>
<text x="227.9" y="421.8" font-size="15.7" fill="#262626" text-anchor="end">-10</text>
<text x="227.9" y="457.1" font-size="15.7" fill="#262626" text-anchor="end">-15</text>
<text x="233.5" y="471.2" font-size="15.7" fill="#262626" text-anchor="middle">0</text>
<text x="321.7" y="471.2" font-size="15.7" fill="#262626" text-anchor="middle">2</text>
<text x="410.0" y="471.2" font-size="15.7" fill="#262626" text-anchor="middle">4</text>
<text x="498.2" y="471.2" font-size="15.7" fill="#262626" text-anchor="middle">6</text>
<text x="586.5" y="471.2" font-size="15.7" fill="#262626" text-anchor="middle">8</text>
<text x="674.7" y="471.2" font-size="15.7" fill="#262626" text-anchor="middle">10</text>
<path d="M638.0,484.8 l8.2,8.2 M638.0,493.0 l8.2,-8.2" stroke="#262626" stroke-width="0.85" fill="none"/>
<text x="647.8" y="493.0" font-size="15.7" fill="#262626">10</text>
<text x="668.1" y="486.4" font-size="11.9" fill="#262626">4</text>
<text x="443.6" y="491.0" font-size="16.3" fill="#262626" text-anchor="middle" textLength="166" lengthAdjust="spacingAndGlyphs">sample step (10 msec)</text>
<text transform="translate(198.6,356.1) rotate(-90)" font-size="16.3" fill="#262626" text-anchor="middle" textLength="142.6" lengthAdjust="spacingAndGlyphs">gaze position (deg)</text>
<text transform="translate(162.1,361.7) rotate(-90)" font-size="19.8" fill="#111" text-anchor="middle" textLength="117.5" lengthAdjust="spacingAndGlyphs">Vertical Gaze</text>
<path d="M241.9,331.4 V359.6 M253.3,331.4 V359.6 M264.2,331.4 V359.6 M274.4,331.4 V359.6 M286.1,331.4 V359.6 M295.3,331.4 V359.6 M307.6,331.4 V359.6 M319.1,331.4 V359.6 M328.1,331.4 V359.6 M340.7,331.4 V359.6 M457.6,331.4 V359.6 M468.9,331.4 V359.6 M478.5,331.4 V359.6 M490.2,331.4 V359.6 M501.1,331.4 V359.6 M513.1,331.4 V359.6 M522.2,331.4 V359.6 M535.6,331.4 V359.6 M544.5,331.4 V359.6 M556.1,331.4 V359.6 " fill="none" stroke="#5a7fcb" stroke-width="1.0"/>
<path d="M359.3,331.4 V359.6 M366.5,331.4 V359.6 M375.4,331.4 V359.6 M386.2,331.4 V359.6 M393.3,331.4 V359.6 M401.3,331.4 V359.6 M410.6,331.4 V359.6 M420.2,331.4 V359.6 M429.2,331.4 V359.6 M437.5,331.4 V359.6 M575.3,331.4 V359.6 M583.9,331.4 V359.6 M591.2,331.4 V359.6 M601.4,331.4 V359.6 M608.8,331.4 V359.6 M619.7,331.4 V359.6 M628.7,331.4 V359.6 M636.6,331.4 V359.6 M645.6,331.4 V359.6 M654.9,331.4 V359.6 " fill="none" stroke="#e66a68" stroke-width="1.0"/>
<path d="M234.50,343.4 234.75,341.2 235.00,343.9 235.25,341.1 235.50,343.4 235.75,341.0 236.00,343.8 236.25,341.3 236.50,344.2 236.75,341.9 237.00,344.1 237.25,340.8 237.50,344.3 237.75,341.4 238.00,345.0 238.25,339.9 238.50,343.9 238.75,341.3 239.00,344.2 239.25,343.1 239.50,343.6 239.75,341.1 240.00,344.6 240.25,340.5 240.50,258.4 240.75,258.1 241.00,263.2 241.25,265.0 241.50,268.2 241.75,265.8 242.00,269.9 242.25,265.6 242.50,270.0 242.75,267.5 243.00,270.7 243.25,269.5 243.50,273.3 243.75,271.2 244.00,342.2 244.25,338.3 244.50,342.3 244.75,339.5 245.00,341.4 245.25,338.7 245.50,341.4 245.75,338.5 246.00,345.8 246.25,339.8 246.50,343.5 246.75,345.4 247.00,351.4 247.25,345.2 247.50,348.9 247.75,342.9 248.00,344.6 248.25,341.2 248.50,343.4 248.75,340.2 249.00,342.6 249.25,339.7 249.50,343.2 249.75,340.0 250.00,343.3 250.25,340.6 250.50,343.2 250.75,340.7 251.00,343.4 251.25,340.8 251.50,343.8 251.75,340.7 252.00,344.1 252.25,342.0 252.50,344.6 252.75,342.4 253.00,345.6 253.25,342.9 253.50,344.8 253.75,341.4 254.00,343.7 254.25,341.9 254.50,344.1 254.75,432.5 255.00,437.0 255.25,432.8 255.50,435.1 255.75,432.6 256.00,434.5 256.25,430.4 256.50,432.0 256.75,427.0 257.00,341.0 257.25,344.0 257.50,346.6 257.75,345.3 258.00,347.6 258.25,346.8 258.50,347.1 258.75,344.4 259.00,345.4 259.25,342.5 259.50,344.9 259.75,343.2 260.00,345.8 260.25,343.4 260.50,346.0 260.75,343.0 261.00,346.7 261.25,344.5 261.50,347.2 261.75,343.8 262.00,346.5 262.25,344.0 262.50,346.8 262.75,341.0 263.00,346.1 263.25,343.1 263.50,346.0 263.75,344.9 264.00,345.9 264.25,343.9 264.50,346.4 264.75,344.3 265.00,345.3 265.25,341.6 265.50,346.4 265.75,346.8 266.00,348.6 266.25,345.2 266.50,348.0 266.75,343.7 267.00,348.9 267.25,342.5 267.50,345.1 267.75,341.9 268.00,345.3 268.25,342.6 268.50,345.0 268.75,341.8 269.00,344.0 269.25,341.7 269.50,344.3 269.75,340.3 270.00,344.6 270.25,342.6 270.50,343.9 270.75,341.6 271.00,343.9 271.25,341.5 271.50,345.5 271.75,341.5 272.00,343.7 272.25,340.9 272.50,344.0 272.75,340.2 273.00,343.3 273.25,340.0 273.50,343.5 273.75,340.6 274.00,344.3 274.25,341.6 274.50,343.8 274.75,339.0 275.00,341.5 275.25,341.7 275.50,341.0 275.75,339.1 276.00,276.0 276.25,270.6 276.50,273.6 276.75,271.8 277.00,274.0 277.25,271.0 277.50,276.4 277.75,273.9 278.00,278.8 278.25,278.5 278.50,341.9 278.75,340.5 279.00,343.5 279.25,340.9 279.50,343.4 279.75,340.6 280.00,343.2 280.25,341.0 280.50,342.7 280.75,339.3 281.00,340.3 281.25,339.5 281.50,343.0 281.75,338.8 282.00,345.8 282.25,340.3 282.50,342.8 282.75,340.6 283.00,343.8 283.25,340.4 283.50,343.1 283.75,340.4 284.00,343.4 284.25,341.6 284.50,344.3 284.75,344.0 285.00,346.9 285.25,340.9 285.50,344.5 285.75,341.8 286.00,343.7 286.25,340.3 286.50,343.1 286.75,340.2 287.00,339.9 287.25,345.1 287.50,348.5 287.75,348.3 288.00,346.8 288.25,342.8 288.50,344.6 288.75,342.1 289.00,344.7 289.25,342.0 289.50,344.8 289.75,341.9 290.00,344.4 290.25,341.6 290.50,341.1 290.75,338.1 291.00,341.7 291.25,340.3 291.50,343.0 291.75,340.3 292.00,343.4 292.25,340.8 292.50,347.3 292.75,342.2 293.00,343.1 293.25,341.0 293.50,343.8 293.75,341.1 294.00,343.0 294.25,339.8 294.50,342.7 294.75,339.9 295.00,344.4 295.25,341.4 295.50,345.1 295.75,341.8 296.00,344.4 296.25,340.1 296.50,342.5 296.75,340.6 297.00,344.3 297.25,338.9 297.50,343.5 297.75,338.6 298.00,275.6 298.25,272.9 298.50,274.6 298.75,272.3 299.00,275.5 299.25,272.9 299.50,277.3 299.75,274.6 300.00,279.1 300.25,276.6 300.50,281.7 300.75,323.7 301.00,332.0 301.25,333.9 301.50,340.8 301.75,340.0 302.00,344.3 302.25,342.4 302.50,345.1 302.75,342.2 303.00,344.6 303.25,341.4 303.50,344.5 303.75,345.5 304.00,346.1 304.25,342.0 304.50,344.6 304.75,342.2 305.00,345.1 305.25,341.4 305.50,345.1 305.75,340.5 306.00,345.6 306.25,342.9 306.50,345.2 306.75,342.2 307.00,345.5 307.25,342.8 307.50,345.3 307.75,342.1 308.00,344.5 308.25,341.2 308.50,341.1 308.75,338.3 309.00,341.4 309.25,336.5 309.50,339.2 309.75,336.6 310.00,338.1 310.25,334.9 310.50,337.8 310.75,335.5 311.00,339.7 311.25,336.4 311.50,339.4 311.75,337.8 312.00,341.6 312.25,339.9 312.50,343.6 312.75,340.1 313.00,342.8 313.25,339.8 313.50,343.5 313.75,340.5 314.00,343.1 314.25,340.3 314.50,344.0 314.75,340.6 315.00,343.1 315.25,340.8 315.50,344.2 315.75,340.2 316.00,343.5 316.25,340.1 316.50,342.0 316.75,339.4 317.00,345.9 317.25,339.3 317.50,344.2 317.75,340.6 318.00,343.7 318.25,340.5 318.50,342.7 318.75,341.1 319.00,343.6 319.25,341.1 319.50,343.7 319.75,340.1 320.00,342.9 320.25,254.0 320.50,263.2 320.75,264.4 321.00,273.2 321.25,269.4 321.50,273.4 321.75,271.1 322.00,275.7 322.25,273.0 322.50,276.3 322.75,275.3 323.00,279.3 323.25,338.4 323.50,341.4 323.75,338.8 324.00,341.8 324.25,338.9 324.50,341.8 324.75,339.4 325.00,343.2 325.25,340.6 325.50,344.0 325.75,341.4 326.00,342.9 326.25,341.7 326.50,342.8 326.75,342.8 327.00,345.2 327.25,343.6 327.50,346.6 327.75,342.8 328.00,346.4 328.25,344.3 328.50,346.8 328.75,345.4 329.00,350.8 329.25,348.8 329.50,346.1 329.75,343.2 330.00,345.5 330.25,342.4 330.50,346.1 330.75,342.7 331.00,345.4 331.25,343.4 331.50,345.9 331.75,276.1 332.00,278.3 332.25,274.7 332.50,277.3 332.75,275.7 333.00,279.6 333.25,277.5 333.50,282.1 333.75,281.1 334.00,327.7 334.25,331.5 334.50,339.1 334.75,339.5 335.00,344.8 335.25,343.1 335.50,345.7 335.75,343.4 336.00,348.8 336.25,343.3 336.50,346.9 336.75,344.1 337.00,345.5 337.25,342.2 337.50,344.7 337.75,341.6 338.00,343.6 338.25,341.3 338.50,343.2 338.75,340.6 339.00,343.6 339.25,340.5 339.50,346.6 339.75,339.5 340.00,341.9 340.25,338.9 340.50,341.3 340.75,339.9 341.00,345.6 341.25,339.5 341.50,342.8 341.75,339.0 342.00,341.0 342.25,337.6 342.50,339.8 342.75,335.3 343.00,337.6 343.25,335.4 343.50,336.9 343.75,333.7 344.00,336.4 344.25,333.5 344.50,335.6 344.75,333.7 345.00,335.7 345.25,332.5 345.50,335.6 345.75,333.1 346.00,336.3 346.25,334.6 346.50,338.5 346.75,335.1 347.00,339.3 347.25,338.6 347.50,341.9 347.75,341.0 348.00,344.4 348.25,341.2 348.50,343.9 348.75,340.7 349.00,343.2 349.25,340.6 349.50,344.0 349.75,340.6 350.00,344.4 350.25,341.8 350.50,343.9 350.75,341.1 351.00,343.6 351.25,340.8 351.50,346.3 351.75,341.9 352.00,344.4 352.25,341.9 352.50,346.0 352.75,342.3 353.00,345.0 353.25,343.2 353.50,346.5 353.75,344.4 354.00,346.9 354.25,343.2 354.50,346.4 354.75,344.8 355.00,346.1 355.25,339.5 355.50,342.2 355.75,341.9 356.00,344.7 356.25,342.4 356.50,344.1 356.75,341.1 357.00,344.3 357.25,341.4 357.50,343.9 357.75,340.7 358.00,342.9 358.25,339.7 358.50,342.2 358.75,339.4 359.00,342.4 359.25,340.1 359.50,266.8 359.75,264.2 360.00,269.9 360.25,268.4 360.50,273.2 360.75,272.1 361.00,274.2 361.25,272.6 361.50,275.1 361.75,272.7 362.00,275.7 362.25,272.5 362.50,275.7 362.75,273.2 363.00,277.7 363.25,274.8 363.50,279.4 363.75,277.2 364.00,344.0 364.25,341.0 364.50,343.5 364.75,343.2 365.00,344.1 365.25,340.6 365.50,343.4 365.75,339.7 366.00,342.3 366.25,341.6 366.50,343.0 366.75,339.9 367.00,343.0 367.25,339.8 367.50,343.0 367.75,425.0 368.00,428.7 368.25,427.1 368.50,429.9 368.75,427.7 369.00,428.7 369.25,426.6 369.50,430.0 369.75,426.3 370.00,428.3 370.25,425.1 370.50,426.6 370.75,423.3 371.00,426.1 371.25,362.9 371.50,362.5 371.75,356.6 372.00,356.7 372.25,351.8 372.50,351.4 372.75,346.5 373.00,347.6 373.25,342.6 373.50,344.8 373.75,340.5 374.00,342.0 374.25,339.6 374.50,341.9 374.75,338.6 375.00,341.3 375.25,338.0 375.50,340.4 375.75,337.4 376.00,341.1 376.25,341.9 376.50,343.3 376.75,337.5 377.00,339.9 377.25,336.1 377.50,424.2 377.75,422.6 378.00,425.3 378.25,424.3 378.50,425.7 378.75,422.6 379.00,425.5 379.25,423.6 379.50,424.1 379.75,420.7 380.00,424.2 380.25,418.8 380.50,422.3 380.75,417.2 381.00,364.2 381.25,358.1 381.50,358.0 381.75,354.0 382.00,354.5 382.25,349.5 382.50,350.3 382.75,346.7 383.00,347.9 383.25,343.7 383.50,344.2 383.75,340.7 384.00,343.1 384.25,339.2 384.50,340.9 384.75,338.7 385.00,341.1 385.25,337.1 385.50,339.2 385.75,337.2 386.00,340.0 386.25,338.1 386.50,340.9 386.75,336.2 387.00,339.2 387.25,336.5 387.50,337.3 387.75,335.0 388.00,341.1 388.25,335.3 388.50,337.9 388.75,335.4 389.00,338.0 389.25,336.5 389.50,339.2 389.75,337.3 390.00,342.1 390.25,340.4 390.50,345.2 390.75,343.0 391.00,342.9 391.25,341.4 391.50,343.4 391.75,340.4 392.00,341.6 392.25,339.1 392.50,339.6 392.75,340.7 393.00,342.4 393.25,340.2 393.50,343.1 393.75,340.4 394.00,342.4 394.25,339.0 394.50,350.7 394.75,345.7 395.00,346.6 395.25,342.6 395.50,344.6 395.75,341.6 396.00,343.5 396.25,342.1 396.50,344.7 396.75,341.5 397.00,342.7 397.25,339.2 397.50,342.0 397.75,338.9 398.00,341.8 398.25,340.3 398.50,342.9 398.75,343.2 399.00,346.5 399.25,342.9 399.50,346.5 399.75,343.1 400.00,344.7 400.25,341.2 400.50,343.7 400.75,343.5 401.00,342.6 401.25,340.3 401.50,343.3 401.75,340.4 402.00,346.0 402.25,339.2 402.50,341.8 402.75,338.3 403.00,342.3 403.25,337.6 403.50,339.7 403.75,339.3 404.00,342.6 404.25,339.6 404.50,342.7 404.75,339.7 405.00,343.6 405.25,340.7 405.50,339.2 405.75,340.2 406.00,343.7 406.25,337.6 406.50,342.9 406.75,339.4 407.00,341.7 407.25,338.9 407.50,342.0 407.75,338.6 408.00,342.2 408.25,339.8 408.50,342.2 408.75,338.1 409.00,341.0 409.25,338.2 409.50,340.8 409.75,336.7 410.00,340.1 410.25,338.1 410.50,340.3 410.75,337.4 411.00,339.7 411.25,337.0 411.50,343.2 411.75,337.2 412.00,337.6 412.25,423.7 412.50,426.4 412.75,425.5 413.00,427.6 413.25,425.5 413.50,428.1 413.75,425.5 414.00,427.4 414.25,424.0 414.50,428.0 414.75,424.9 415.00,427.0 415.25,423.2 415.50,425.0 415.75,422.3 416.00,424.3 416.25,420.5 416.50,422.8 416.75,362.5 417.00,360.0 417.25,352.8 417.50,352.2 417.75,345.5 418.00,346.1 418.25,341.2 418.50,342.6 418.75,339.8 419.00,341.7 419.25,339.1 419.50,342.7 419.75,340.4 420.00,342.5 420.25,339.6 420.50,342.5 420.75,340.4 421.00,343.3 421.25,339.7 421.50,340.9 421.75,337.7 422.00,340.1 422.25,337.8 422.50,340.2 422.75,342.0 423.00,344.0 423.25,340.5 423.50,342.3 423.75,338.4 424.00,341.4 424.25,337.6 424.50,341.0 424.75,338.4 425.00,340.1 425.25,337.9 425.50,342.5 425.75,337.2 426.00,340.6 426.25,337.5 426.50,341.5 426.75,335.9 427.00,342.2 427.25,340.2 427.50,343.8 427.75,340.3 428.00,343.5 428.25,340.8 428.50,345.0 428.75,341.3 429.00,343.6 429.25,339.8 429.50,342.8 429.75,341.2 430.00,343.1 430.25,340.3 430.50,343.5 430.75,338.4 431.00,340.2 431.25,336.8 431.50,337.7 431.75,334.1 432.00,338.2 432.25,336.8 432.50,338.6 432.75,337.0 433.00,339.8 433.25,337.6 433.50,341.4 433.75,338.7 434.00,342.3 434.25,339.7 434.50,343.0 434.75,337.2 435.00,341.4 435.25,341.4 435.50,342.0 435.75,338.1 436.00,341.7 436.25,338.1 436.50,340.5 436.75,337.9 437.00,340.9 437.25,338.5 437.50,340.9 437.75,338.6 438.00,340.9 438.25,337.6 438.50,341.2 438.75,338.9 439.00,341.2 439.25,337.1 439.50,337.3 439.75,330.7 440.00,333.7 440.25,332.7 440.50,334.8 440.75,332.8 441.00,335.2 441.25,334.6 441.50,336.0 441.75,334.3 442.00,337.5 442.25,337.9 442.50,340.4 442.75,336.3 443.00,339.3 443.25,337.6 443.50,340.3 443.75,337.6 444.00,340.2 444.25,337.2 444.50,337.1 444.75,334.9 445.00,338.2 445.25,335.0 445.50,338.5 445.75,337.1 446.00,339.5 446.25,338.1 446.50,342.0 446.75,339.6 447.00,343.2 447.25,340.0 447.50,342.7 447.75,340.4 448.00,342.8 448.25,340.7 448.50,343.5 448.75,340.5 449.00,343.8 449.25,340.5 449.50,342.9 449.75,339.8 450.00,342.3 450.25,336.1 450.50,343.1 450.75,340.0 451.00,343.5 451.25,340.4 451.50,342.3 451.75,338.7 452.00,341.3 452.25,339.9 452.50,342.4 452.75,339.3 453.00,343.3 453.25,340.1 453.50,342.6 453.75,340.7 454.00,346.8 454.25,341.2 454.50,344.1 454.75,340.2 455.00,342.7 455.25,340.9 455.50,342.9 455.75,341.1 456.00,343.5 456.25,340.7 456.50,343.0 456.75,340.6 457.00,342.6 457.25,339.5 457.50,342.5 457.75,338.8 458.00,342.1 458.25,339.2 458.50,342.8 458.75,338.1 459.00,341.2 459.25,337.2 459.50,338.8 459.75,336.5 460.00,338.5 460.25,336.3 460.50,439.8 460.75,436.8 461.00,441.4 461.25,437.5 461.50,439.6 461.75,437.3 462.00,438.6 462.25,434.1 462.50,435.7 462.75,431.5 463.00,343.4 463.25,340.5 463.50,343.5 463.75,340.1 464.00,342.6 464.25,340.0 464.50,341.9 464.75,339.6 465.00,339.0 465.25,338.7 465.50,341.7 465.75,339.1 466.00,341.1 466.25,338.2 466.50,340.9 466.75,338.5 467.00,340.1 467.25,337.9 467.50,341.0 467.75,338.4 468.00,342.1 468.25,338.8 468.50,341.8 468.75,338.9 469.00,341.7 469.25,335.0 469.50,339.1 469.75,335.8 470.00,331.5 470.25,331.2 470.50,334.7 470.75,332.6 471.00,336.0 471.25,333.2 471.50,336.1 471.75,334.8 472.00,337.8 472.25,338.1 472.50,339.3 472.75,337.2 473.00,339.7 473.25,337.6 473.50,341.0 473.75,338.5 474.00,342.4 474.25,340.4 474.50,343.3 474.75,340.6 475.00,343.1 475.25,340.2 475.50,344.0 475.75,341.9 476.00,345.3 476.25,342.2 476.50,344.3 476.75,341.9 477.00,344.7 477.25,340.6 477.50,344.3 477.75,340.7 478.00,343.9 478.25,340.6 478.50,343.3 478.75,340.2 479.00,344.1 479.25,340.1 479.50,342.9 479.75,339.0 480.00,341.8 480.25,338.7 480.50,341.3 480.75,338.8 481.00,340.9 481.25,337.9 481.50,341.2 481.75,339.1 482.00,342.7 482.25,339.3 482.50,342.1 482.75,339.1 483.00,342.3 483.25,338.2 483.50,341.5 483.75,340.2 484.00,343.8 484.25,341.3 484.50,345.2 484.75,344.1 485.00,346.1 485.25,342.7 485.50,345.0 485.75,342.4 486.00,345.3 486.25,342.5 486.50,344.2 486.75,341.8 487.00,343.3 487.25,340.9 487.50,344.1 487.75,341.5 488.00,344.1 488.25,341.7 488.50,347.7 488.75,341.1 489.00,342.9 489.25,343.7 489.50,343.2 489.75,340.8 490.00,344.4 490.25,342.0 490.50,340.5 490.75,342.4 491.00,345.2 491.25,342.6 491.50,345.7 491.75,342.2 492.00,342.3 492.25,338.5 492.50,344.5 492.75,343.1 493.00,345.0 493.25,341.5 493.50,343.2 493.75,340.4 494.00,344.3 494.25,342.1 494.50,345.0 494.75,341.6 495.00,344.1 495.25,342.0 495.50,344.3 495.75,341.9 496.00,347.6 496.25,342.0 496.50,344.0 496.75,341.1 497.00,343.0 497.25,339.7 497.50,344.6 497.75,339.9 498.00,343.2 498.25,341.2 498.50,344.6 498.75,343.3 499.00,346.1 499.25,343.3 499.50,346.1 499.75,342.6 500.00,345.3 500.25,342.7 500.50,345.3 500.75,342.7 501.00,346.1 501.25,343.9 501.50,346.2 501.75,343.2 502.00,346.4 502.25,344.3 502.50,348.6 502.75,345.8 503.00,347.9 503.25,348.0 503.50,345.4 503.75,341.0 504.00,343.0 504.25,340.3 504.50,345.2 504.75,338.8 505.00,340.6 505.25,337.8 505.50,341.4 505.75,339.1 506.00,342.1 506.25,339.2 506.50,341.7 506.75,338.6 507.00,340.8 507.25,338.4 507.50,341.5 507.75,338.7 508.00,341.3 508.25,342.6 508.50,342.0 508.75,339.4 509.00,343.3 509.25,340.8 509.50,343.6 509.75,341.1 510.00,343.6 510.25,340.6 510.50,343.9 510.75,341.7 511.00,344.7 511.25,341.5 511.50,344.3 511.75,341.3 512.00,347.1 512.25,341.1 512.50,344.1 512.75,341.5 513.00,344.8 513.25,342.5 513.50,342.5 513.75,342.5 514.00,344.2 514.25,348.5 514.50,347.4 514.75,342.7 515.00,344.6 515.25,340.6 515.50,342.9 515.75,339.7 516.00,402.0 516.25,420.0 516.50,424.3 516.75,421.7 517.00,423.4 517.25,420.2 517.50,421.9 517.75,417.9 518.00,420.7 518.25,415.5 518.50,417.4 518.75,341.5 519.00,344.4 519.25,341.6 519.50,344.8 519.75,341.5 520.00,344.8 520.25,342.3 520.50,345.2 520.75,342.3 521.00,344.3 521.25,341.2 521.50,344.0 521.75,341.8 522.00,344.4 522.25,341.1 522.50,343.6 522.75,341.2 523.00,347.0 523.25,340.9 523.50,343.3 523.75,341.3 524.00,343.8 524.25,340.0 524.50,341.7 524.75,340.9 525.00,343.4 525.25,340.5 525.50,343.5 525.75,339.8 526.00,342.7 526.25,337.9 526.50,341.2 526.75,338.0 527.00,341.0 527.25,339.0 527.50,341.3 527.75,339.7 528.00,342.4 528.25,340.6 528.50,346.6 528.75,344.9 529.00,344.7 529.25,342.5 529.50,347.6 529.75,342.5 530.00,345.4 530.25,342.6 530.50,345.2 530.75,342.9 531.00,346.5 531.25,342.4 531.50,345.5 531.75,342.4 532.00,345.5 532.25,338.6 532.50,344.9 532.75,342.8 533.00,345.8 533.25,343.9 533.50,345.5 533.75,342.3 534.00,345.4 534.25,338.5 534.50,344.7 534.75,340.9 535.00,343.0 535.25,340.3 535.50,342.8 535.75,340.0 536.00,343.1 536.25,340.2 536.50,343.0 536.75,341.1 537.00,343.6 537.25,340.8 537.50,343.7 537.75,415.7 538.00,421.2 538.25,417.8 538.50,421.1 538.75,417.9 539.00,420.3 539.25,417.4 539.50,418.1 539.75,415.5 540.00,416.9 540.25,411.5 540.50,413.7 540.75,340.8 541.00,343.3 541.25,339.9 541.50,343.6 541.75,340.4 542.00,342.9 542.25,340.6 542.50,343.0 542.75,340.0 543.00,346.6 543.25,340.7 543.50,344.4 543.75,340.8 544.00,344.1 544.25,341.4 544.50,343.4 544.75,340.4 545.00,343.2 545.25,340.9 545.50,343.8 545.75,344.1 546.00,343.4 546.25,343.2 546.50,343.6 546.75,341.0 547.00,343.2 547.25,341.3 547.50,343.3 547.75,436.0 548.00,439.0 548.25,437.0 548.50,440.8 548.75,437.4 549.00,439.6 549.25,435.8 549.50,437.3 549.75,434.0 550.00,436.0 550.25,430.9 550.50,432.1 550.75,337.6 551.00,340.7 551.25,338.7 551.50,342.1 551.75,340.0 552.00,343.5 552.25,339.9 552.50,344.0 552.75,341.8 553.00,344.9 553.25,342.1 553.50,344.8 553.75,341.9 554.00,345.4 554.25,341.2 554.50,344.5 554.75,343.3 555.00,343.9 555.25,340.5 555.50,342.9 555.75,339.5 556.00,342.9 556.25,340.9 556.50,344.6 556.75,339.4 557.00,342.0 557.25,340.2 557.50,342.9 557.75,340.2 558.00,344.1 558.25,344.4 558.50,346.6 558.75,343.8 559.00,351.6 559.25,344.0 559.50,345.8 559.75,342.2 560.00,344.3 560.25,344.3 560.50,343.3 560.75,339.9 561.00,342.9 561.25,340.0 561.50,343.7 561.75,341.0 562.00,344.6 562.25,341.4 562.50,344.6 562.75,342.2 563.00,344.4 563.25,341.2 563.50,343.8 563.75,340.8 564.00,343.6 564.25,340.6 564.50,343.4 564.75,340.3 565.00,343.1 565.25,340.9 565.50,344.3 565.75,342.1 566.00,344.7 566.25,342.2 566.50,345.3 566.75,342.6 567.00,346.0 567.25,343.9 567.50,347.3 567.75,343.7 568.00,346.7 568.25,343.0 568.50,345.5 568.75,342.3 569.00,344.3 569.25,342.0 569.50,344.3 569.75,341.7 570.00,344.5 570.25,344.1 570.50,344.9 570.75,341.7 571.00,345.3 571.25,342.0 571.50,345.4 571.75,342.7 572.00,345.2 572.25,342.6 572.50,344.6 572.75,341.3 573.00,343.4 573.25,340.7 573.50,342.9 573.75,340.2 574.00,342.4 574.25,340.0 574.50,343.7 574.75,340.6 575.00,342.9 575.25,340.4 575.50,343.2 575.75,344.3 576.00,343.3 576.25,340.5 576.50,272.3 576.75,269.8 577.00,272.8 577.25,269.1 577.50,271.8 577.75,268.5 578.00,271.7 578.25,269.8 578.50,272.9 578.75,270.1 579.00,272.7 579.25,271.5 579.50,274.6 579.75,271.0 580.00,276.4 580.25,272.8 580.50,346.2 580.75,341.9 581.00,349.2 581.25,344.9 581.50,347.0 581.75,344.4 582.00,346.8 582.25,347.6 582.50,347.0 582.75,343.9 583.00,345.7 583.25,342.2 583.50,345.4 583.75,342.6 584.00,345.4 584.25,343.1 584.50,346.3 584.75,343.0 585.00,347.1 585.25,343.9 585.50,346.6 585.75,418.4 586.00,422.1 586.25,419.2 586.50,423.8 586.75,419.3 587.00,422.2 587.25,420.0 587.50,422.7 587.75,419.1 588.00,421.7 588.25,417.8 588.50,419.8 588.75,415.6 589.00,364.5 589.25,353.7 589.50,351.8 589.75,343.6 590.00,344.4 590.25,340.3 590.50,343.8 590.75,342.6 591.00,345.1 591.25,341.7 591.50,343.8 591.75,341.7 592.00,345.4 592.25,345.6 592.50,345.5 592.75,341.5 593.00,342.6 593.25,336.7 593.50,337.8 593.75,418.5 594.00,421.5 594.25,418.4 594.50,423.0 594.75,418.8 595.00,422.6 595.25,419.2 595.50,420.8 595.75,418.0 596.00,420.7 596.25,416.5 596.50,420.6 596.75,415.8 597.00,418.2 597.25,413.7 597.50,364.5 597.75,355.6 598.00,353.7 598.25,347.2 598.50,347.2 598.75,341.9 599.00,343.7 599.25,340.1 599.50,343.0 599.75,341.4 600.00,340.3 600.25,340.4 600.50,341.4 600.75,341.5 601.00,343.6 601.25,340.8 601.50,344.5 601.75,341.3 602.00,344.3 602.25,341.9 602.50,344.3 602.75,342.3 603.00,346.3 603.25,339.8 603.50,342.4 603.75,338.9 604.00,339.0 604.25,335.8 604.50,339.1 604.75,337.0 605.00,344.6 605.25,339.3 605.50,346.0 605.75,339.7 606.00,345.9 606.25,340.3 606.50,342.6 606.75,339.4 607.00,339.3 607.25,339.7 607.50,343.2 607.75,340.5 608.00,343.4 608.25,341.1 608.50,343.5 608.75,339.6 609.00,346.5 609.25,341.0 609.50,343.6 609.75,341.2 610.00,343.6 610.25,339.9 610.50,341.4 610.75,346.2 611.00,346.2 611.25,343.2 611.50,346.6 611.75,343.9 612.00,275.6 612.25,272.1 612.50,274.6 612.75,271.2 613.00,275.2 613.25,270.8 613.50,276.0 613.75,273.1 614.00,275.9 614.25,273.2 614.50,276.1 614.75,274.0 615.00,278.3 615.25,276.2 615.50,280.2 615.75,342.8 616.00,345.1 616.25,342.0 616.50,344.8 616.75,342.5 617.00,344.4 617.25,341.7 617.50,344.6 617.75,342.1 618.00,344.1 618.25,341.6 618.50,344.7 618.75,341.4 619.00,344.8 619.25,342.0 619.50,345.1 619.75,342.2 620.00,344.8 620.25,341.8 620.50,344.8 620.75,342.2 621.00,344.6 621.25,340.5 621.50,343.0 621.75,339.2 622.00,342.3 622.25,338.0 622.50,340.8 622.75,338.5 623.00,342.8 623.25,340.1 623.50,344.4 623.75,341.3 624.00,348.0 624.25,342.3 624.50,345.7 624.75,343.9 625.00,349.4 625.25,344.6 625.50,347.0 625.75,345.2 626.00,348.4 626.25,346.9 626.50,347.7 626.75,345.3 627.00,345.6 627.25,344.9 627.50,347.3 627.75,345.0 628.00,348.2 628.25,345.2 628.50,347.2 628.75,344.6 629.00,347.5 629.25,348.3 629.50,349.9 629.75,347.8 630.00,349.8 630.25,345.3 630.50,346.0 630.75,341.5 631.00,344.1 631.25,339.8 631.50,342.6 631.75,340.6 632.00,342.3 632.25,339.9 632.50,343.0 632.75,340.4 633.00,344.3 633.25,341.9 633.50,345.2 633.75,342.9 634.00,344.4 634.25,344.9 634.50,346.0 634.75,340.6 635.00,342.9 635.25,340.2 635.50,343.3 635.75,340.9 636.00,346.2 636.25,342.8 636.50,346.8 636.75,344.2 637.00,345.0 637.25,344.5 637.50,347.3 637.75,344.4 638.00,349.7 638.25,342.8 638.50,345.1 638.75,341.9 639.00,344.1 639.25,340.5 639.50,342.9 639.75,339.9 640.00,343.6 640.25,340.6 640.50,343.7 640.75,341.6 641.00,343.9 641.25,341.6 641.50,345.4 641.75,342.5 642.00,346.4 642.25,342.5 642.50,344.5 642.75,342.3 643.00,345.4 643.25,342.2 643.50,349.2 643.75,345.8 644.00,346.1 644.25,343.2 644.50,345.7 644.75,342.6 645.00,345.6 645.25,341.5 645.50,344.3 645.75,340.5 646.00,343.9 646.25,340.9 646.50,344.0 646.75,344.1 647.00,343.5 647.25,269.3 647.50,270.8 647.75,266.2 648.00,269.6 648.25,267.3 648.50,270.3 648.75,267.1 649.00,270.0 649.25,267.9 649.50,270.3 649.75,268.7 650.00,272.4 650.25,269.3 650.50,273.0 650.75,271.3 651.00,274.7 651.25,338.5 651.50,340.4 651.75,338.4 652.00,341.8 652.25,339.2 652.50,342.0 652.75,338.8 653.00,342.3 653.25,339.9 653.50,343.5 653.75,341.2 654.00,342.9 654.25,340.9 654.50,343.8 654.75,340.3 655.00,342.9 655.25,273.3 655.50,275.7 655.75,273.9 656.00,276.8 656.25,273.6 656.50,275.9 656.75,273.4 657.00,275.9 657.25,274.0 657.50,275.9" fill="none" stroke="#000" stroke-width="0.8" stroke-linejoin="round"/>
</g>
<g id="p3">
<path d="M232.40,520.60 V721.20 H673.60" fill="none" stroke="#4d4d4d" stroke-width="0.9"/>
<path d="M232.40,540.70 h4.5 M232.40,576.90 h4.5 M232.40,613.10 h4.5 M232.40,649.30 h4.5 M232.40,685.50 h4.5 M232.40,721.20 v-4.5 M320.64,721.20 v-4.5 M408.88,721.20 v-4.5 M497.12,721.20 v-4.5 M585.36,721.20 v-4.5 M673.60,721.20 v-4.5 " fill="none" stroke="#4d4d4d" stroke-width="0.9"/>
<text x="225.8" y="545.7" font-size="13.8" fill="#262626" text-anchor="end">10</text>
<text x="225.8" y="581.9" font-size="13.8" fill="#262626" text-anchor="end">5</text>
<text x="225.8" y="618.1" font-size="13.8" fill="#262626" text-anchor="end">0</text>
<text x="225.8" y="654.3" font-size="13.8" fill="#262626" text-anchor="end">-5</text>
<text x="225.8" y="690.5" font-size="13.8" fill="#262626" text-anchor="end">-10</text>
<text x="225.8" y="726.7" font-size="13.8" fill="#262626" text-anchor="end">-15</text>
<text x="231.4" y="738.3" font-size="13.8" fill="#262626" text-anchor="middle">0</text>
<text x="319.6" y="738.3" font-size="13.8" fill="#262626" text-anchor="middle">2</text>
<text x="407.9" y="738.3" font-size="13.8" fill="#262626" text-anchor="middle">4</text>
<text x="496.1" y="738.3" font-size="13.8" fill="#262626" text-anchor="middle">6</text>
<text x="584.4" y="738.3" font-size="13.8" fill="#262626" text-anchor="middle">8</text>
<text x="672.6" y="738.3" font-size="13.8" fill="#262626" text-anchor="middle">10</text>
<path d="M640.0,750.4 l7.2,7.2 M640.0,757.6 l7.2,-7.2" stroke="#262626" stroke-width="0.85" fill="none"/>
<text x="648.5" y="757.6" font-size="13.8" fill="#262626">10</text>
<text x="666.4" y="751.8" font-size="10.5" fill="#262626">4</text>
<text x="443.0" y="755.9" font-size="14.7" fill="#262626" text-anchor="middle" textLength="149.3" lengthAdjust="spacingAndGlyphs">sample step (10 msec)</text>
<text transform="translate(200.2,622.0) rotate(-90)" font-size="14.7" fill="#262626" text-anchor="middle" textLength="125" lengthAdjust="spacingAndGlyphs">gaze position (deg)</text>
<text transform="translate(162.1,624.4) rotate(-90)" font-size="19.8" fill="#111" text-anchor="middle" textLength="141" lengthAdjust="spacingAndGlyphs">Horizontal Gaze</text>
<path d="M240.3,598.6 V627.6 M249.5,598.6 V627.6 M260.4,598.6 V627.6 M271.8,598.6 V627.6 M282.7,598.6 V627.6 M294.3,598.6 V627.6 M304.6,598.6 V627.6 M317.2,598.6 V627.6 M328.5,598.6 V627.6 M339.0,598.6 V627.6 M456.0,598.6 V627.6 M465.3,598.6 V627.6 M478.3,598.6 V627.6 M488.4,598.6 V627.6 M498.8,598.6 V627.6 M511.3,598.6 V627.6 M522.2,598.6 V627.6 M532.2,598.6 V627.6 M542.5,598.6 V627.6 M554.9,598.6 V627.6 " fill="none" stroke="#5a7fcb" stroke-width="1.0"/>
<path d="M357.3,598.6 V627.6 M365.9,598.6 V627.6 M374.4,598.6 V627.6 M382.4,598.6 V627.6 M392.3,598.6 V627.6 M401.7,598.6 V627.6 M409.3,598.6 V627.6 M419.0,598.6 V627.6 M427.0,598.6 V627.6 M436.5,598.6 V627.6 M573.5,598.6 V627.6 M582.3,598.6 V627.6 M589.9,598.6 V627.6 M598.4,598.6 V627.6 M606.4,598.6 V627.6 M615.7,598.6 V627.6 M625.1,598.6 V627.6 M633.6,598.6 V627.6 M643.6,598.6 V627.6 M652.5,598.6 V627.6 " fill="none" stroke="#e66a68" stroke-width="1.0"/>
<path d="M232.40,614.3 232.65,611.1 232.90,614.0 233.15,611.7 233.40,613.3 233.65,610.6 233.90,613.6 234.15,611.4 234.40,613.4 234.65,613.4 234.90,613.6 235.15,611.7 235.40,613.9 235.65,611.5 235.90,613.9 236.15,611.7 236.40,615.0 236.65,612.1 236.90,614.7 237.15,612.7 237.40,614.9 237.65,611.6 237.90,615.6 238.15,612.3 238.40,614.4 238.65,611.2 238.90,613.5 239.15,611.5 239.40,613.8 239.65,611.4 239.90,613.9 240.15,611.3 240.40,615.1 240.65,613.0 240.90,613.8 241.15,611.3 241.40,613.4 241.65,609.7 241.90,618.0 242.15,617.2 242.40,619.2 242.65,617.8 242.90,615.8 243.15,612.8 243.40,614.1 243.65,611.7 243.90,613.7 244.15,611.0 244.40,612.6 244.65,611.1 244.90,613.3 245.15,611.7 245.40,613.2 245.65,610.8 245.90,613.0 246.15,610.6 246.40,613.0 246.65,611.0 246.90,613.4 247.15,610.9 247.40,613.0 247.65,610.8 247.90,613.3 248.15,611.3 248.40,614.2 248.65,612.6 248.90,615.2 249.15,612.8 249.40,614.7 249.65,612.3 249.90,611.0 250.15,611.6 250.40,614.1 250.65,611.6 250.90,614.4 251.15,611.6 251.40,612.9 251.65,620.6 251.90,624.0 252.15,618.6 252.40,617.6 252.65,614.1 252.90,614.7 253.15,614.9 253.40,617.3 253.65,614.0 253.90,616.0 254.15,613.5 254.40,614.9 254.65,610.8 254.90,613.0 255.15,610.7 255.40,613.2 255.65,610.4 255.90,612.6 256.15,611.7 256.40,613.0 256.65,610.4 256.90,612.9 257.15,610.9 257.40,612.0 257.65,610.2 257.90,610.1 258.15,610.7 258.40,612.7 258.65,610.9 258.90,612.0 259.15,611.5 259.40,611.9 259.65,609.4 259.90,612.1 260.15,609.3 260.40,611.0 260.65,608.8 260.90,611.0 261.15,546.8 261.40,547.0 261.65,545.6 261.90,547.5 262.15,545.5 262.40,547.2 262.65,545.7 262.90,547.7 263.15,536.3 263.40,537.9 263.65,536.8 263.90,537.7 264.15,537.4 264.40,539.4 264.65,538.2 264.90,540.6 265.15,539.9 265.40,612.0 265.65,610.1 265.90,612.6 266.15,610.5 266.40,612.7 266.65,610.6 266.90,612.7 267.15,611.2 267.40,613.0 267.65,611.1 267.90,613.1 268.15,607.7 268.40,612.2 268.65,609.1 268.90,611.9 269.15,610.0 269.40,612.8 269.65,610.1 269.90,611.9 270.15,609.7 270.40,612.2 270.65,609.3 270.90,611.2 271.15,608.9 271.40,611.7 271.65,609.3 271.90,611.5 272.15,609.1 272.40,612.2 272.65,610.5 272.90,612.4 273.15,610.7 273.40,613.1 273.65,680.2 273.90,682.0 274.15,680.6 274.40,682.0 274.65,680.4 274.90,681.8 275.15,680.2 275.40,682.8 275.65,679.9 275.90,681.7 276.15,678.8 276.40,681.2 276.65,678.3 276.90,679.3 277.15,677.2 277.40,677.9 277.65,627.1 277.90,625.0 278.15,619.2 278.40,618.7 278.65,614.5 278.90,616.4 279.15,612.8 279.40,614.4 279.65,612.1 279.90,614.6 280.15,612.5 280.40,614.6 280.65,613.5 280.90,616.0 281.15,613.3 281.40,615.4 281.65,613.1 281.90,615.4 282.15,612.9 282.40,614.8 282.65,612.6 282.90,614.9 283.15,612.5 283.40,615.2 283.65,612.5 283.90,615.2 284.15,610.2 284.40,608.9 284.65,605.9 284.90,605.5 285.15,607.5 285.40,610.8 285.65,609.0 285.90,611.8 286.15,610.6 286.40,612.6 286.65,611.2 286.90,613.7 287.15,611.9 287.40,613.7 287.65,611.5 287.90,613.0 288.15,610.4 288.40,613.0 288.65,611.5 288.90,616.9 289.15,611.5 289.40,613.7 289.65,611.4 289.90,613.9 290.15,611.0 290.40,613.5 290.65,611.5 290.90,613.9 291.15,611.8 291.40,614.4 291.65,614.7 291.90,613.7 292.15,612.0 292.40,614.3 292.65,612.3 292.90,614.2 293.15,612.7 293.40,614.3 293.65,609.9 293.90,615.0 294.15,612.5 294.40,615.5 294.65,613.3 294.90,615.7 295.15,613.6 295.40,616.1 295.65,613.9 295.90,627.4 296.15,627.3 296.40,625.7 296.65,622.1 296.90,622.7 297.15,619.6 297.40,620.6 297.65,616.8 297.90,618.6 298.15,615.8 298.40,624.4 298.65,620.6 298.90,620.9 299.15,620.1 299.40,618.2 299.65,614.6 299.90,616.1 300.15,613.0 300.40,615.1 300.65,615.0 300.90,614.9 301.15,613.0 301.40,615.1 301.65,612.5 301.90,617.8 302.15,612.7 302.40,614.7 302.65,612.0 302.90,614.0 303.15,611.5 303.40,613.1 303.65,610.7 303.90,612.8 304.15,609.8 304.40,615.0 304.65,611.1 304.90,613.5 305.15,611.8 305.40,614.4 305.65,623.5 305.90,622.9 306.15,618.2 306.40,542.0 306.65,539.7 306.90,541.9 307.15,539.7 307.40,540.4 307.65,539.7 307.90,541.4 308.15,539.3 308.40,541.6 308.65,540.9 308.90,542.1 309.15,541.7 309.40,543.5 309.65,542.8 309.90,545.1 310.15,614.1 310.40,616.6 310.65,614.1 310.90,615.9 311.15,613.8 311.40,615.9 311.65,613.0 311.90,615.2 312.15,612.6 312.40,615.4 312.65,613.4 312.90,616.5 313.15,613.4 313.40,615.4 313.65,613.5 313.90,615.4 314.15,612.8 314.40,615.4 314.65,613.2 314.90,615.2 315.15,613.3 315.40,615.4 315.65,613.3 315.90,615.7 316.15,614.3 316.40,616.4 316.65,614.5 316.90,616.5 317.15,614.8 317.40,616.7 317.65,614.3 317.90,616.1 318.15,614.6 318.40,616.9 318.65,614.5 318.90,616.4 319.15,613.3 319.40,627.6 319.65,622.0 319.90,625.6 320.15,623.1 320.40,621.9 320.65,615.8 320.90,616.4 321.15,612.7 321.40,613.8 321.65,611.7 321.90,613.9 322.15,612.0 322.40,613.7 322.65,612.4 322.90,615.1 323.15,613.2 323.40,615.5 323.65,613.2 323.90,615.1 324.15,612.9 324.40,615.3 324.65,613.4 324.90,615.9 325.15,614.0 325.40,616.3 325.65,614.0 325.90,616.6 326.15,614.8 326.40,617.2 326.65,614.5 326.90,616.8 327.15,614.3 327.40,616.4 327.65,613.8 327.90,615.8 328.15,614.4 328.40,616.3 328.65,613.8 328.90,616.1 329.15,614.4 329.40,616.6 329.65,613.3 329.90,615.5 330.15,623.2 330.40,626.3 330.65,622.8 330.90,625.6 331.15,621.3 331.40,621.3 331.65,617.0 331.90,618.7 332.15,615.2 332.40,617.2 332.65,615.0 332.90,617.5 333.15,614.7 333.40,616.9 333.65,614.6 333.90,616.5 334.15,614.6 334.40,617.5 334.65,615.1 334.90,616.4 335.15,619.6 335.40,626.0 335.65,620.5 335.90,621.3 336.15,617.6 336.40,619.3 336.65,616.1 336.90,618.0 337.15,615.2 337.40,618.0 337.65,615.5 337.90,617.8 338.15,615.9 338.40,618.4 338.65,616.0 338.90,617.6 339.15,615.0 339.40,617.6 339.65,615.4 339.90,617.2 340.15,615.1 340.40,617.1 340.65,691.9 340.90,694.4 341.15,692.7 341.40,694.3 341.65,692.3 341.90,692.5 342.15,690.0 342.40,690.6 342.65,612.8 342.90,614.6 343.15,612.6 343.40,614.5 343.65,612.6 343.90,615.0 344.15,612.2 344.40,615.4 344.65,617.7 344.90,619.7 345.15,617.6 345.40,618.2 345.65,615.4 345.90,617.3 346.15,614.4 346.40,616.3 346.65,613.9 346.90,615.8 347.15,612.9 347.40,612.3 347.65,613.4 347.90,615.2 348.15,612.7 348.40,615.1 348.65,612.9 348.90,615.2 349.15,613.1 349.40,615.0 349.65,613.0 349.90,615.0 350.15,613.1 350.40,615.4 350.65,613.5 350.90,615.6 351.15,613.1 351.40,615.1 351.65,612.8 351.90,614.2 352.15,611.0 352.40,613.0 352.65,611.2 352.90,614.3 353.15,611.7 353.40,614.5 353.65,612.1 353.90,614.2 354.15,611.6 354.40,614.1 354.65,611.6 354.90,614.3 355.15,611.6 355.40,614.3 355.65,611.6 355.90,614.2 356.15,612.7 356.40,615.3 356.65,612.5 356.90,614.8 357.15,612.8 357.40,615.4 357.65,613.2 357.90,612.3 358.15,613.1 358.40,616.1 358.65,614.5 358.90,624.6 359.15,621.6 359.40,624.4 359.65,619.6 359.90,619.4 360.15,616.4 360.40,620.8 360.65,615.7 360.90,617.6 361.15,614.8 361.40,614.5 361.65,619.1 361.90,619.3 362.15,616.1 362.40,617.7 362.65,614.7 362.90,616.6 363.15,614.4 363.40,616.0 363.65,613.8 363.90,616.5 364.15,613.9 364.40,615.4 364.65,613.1 364.90,616.8 365.15,612.7 365.40,614.9 365.65,612.1 365.90,614.3 366.15,612.2 366.40,614.5 366.65,612.8 366.90,615.4 367.15,620.0 367.40,621.4 367.65,619.6 367.90,621.0 368.15,617.7 368.40,618.7 368.65,615.6 368.90,616.5 369.15,614.1 369.40,615.9 369.65,613.4 369.90,615.3 370.15,612.7 370.40,614.0 370.65,611.3 370.90,614.1 371.15,611.7 371.40,614.3 371.65,612.1 371.90,615.5 372.15,613.4 372.40,615.9 372.65,616.7 372.90,618.1 373.15,615.8 373.40,617.8 373.65,613.9 373.90,615.5 374.15,613.2 374.40,614.8 374.65,612.6 374.90,615.2 375.15,612.6 375.40,695.2 375.65,692.9 375.90,695.4 376.15,693.3 376.40,695.5 376.65,693.6 376.90,694.6 377.15,693.7 377.40,694.8 377.65,692.6 377.90,693.9 378.15,691.6 378.40,693.0 378.65,691.1 378.90,638.1 379.15,631.6 379.40,629.7 379.65,624.1 379.90,623.3 380.15,619.2 380.40,619.2 380.65,615.4 380.90,616.8 381.15,613.6 381.40,614.7 381.65,611.9 381.90,614.3 382.15,612.6 382.40,614.6 382.65,612.1 382.90,614.1 383.15,611.7 383.40,622.1 383.65,621.3 383.90,623.1 384.15,619.1 384.40,540.9 384.65,539.0 384.90,540.4 385.15,538.4 385.40,540.6 385.65,539.1 385.90,539.8 386.15,538.8 386.40,541.0 386.65,539.8 386.90,541.8 387.15,541.3 387.40,542.1 387.65,542.1 387.90,595.5 388.15,600.0 388.40,606.7 388.65,608.0 388.90,613.0 389.15,612.0 389.40,614.9 389.65,612.8 389.90,615.3 390.15,613.5 390.40,615.8 390.65,613.5 390.90,614.9 391.15,612.9 391.40,615.3 391.65,612.3 391.90,614.7 392.15,612.3 392.40,614.9 392.65,611.9 392.90,614.4 393.15,620.9 393.40,623.2 393.65,621.5 393.90,622.4 394.15,618.1 394.40,618.3 394.65,615.3 394.90,616.2 395.15,612.9 395.40,614.9 395.65,611.9 395.90,613.4 396.15,611.7 396.40,614.5 396.65,612.5 396.90,614.9 397.15,613.3 397.40,615.4 397.65,614.1 397.90,616.6 398.15,614.0 398.40,616.1 398.65,616.8 398.90,618.8 399.15,616.6 399.40,618.1 399.65,615.9 399.90,617.4 400.15,613.9 400.40,616.1 400.65,614.4 400.90,616.3 401.15,613.9 401.40,615.9 401.65,688.8 401.90,690.2 402.15,688.5 402.40,689.9 402.65,688.2 402.90,690.3 403.15,689.0 403.40,689.8 403.65,688.9 403.90,689.4 404.15,687.9 404.40,688.1 404.65,686.1 404.90,687.1 405.15,685.3 405.40,616.2 405.65,613.4 405.90,615.5 406.15,613.8 406.40,615.3 406.65,612.7 406.90,614.4 407.15,611.8 407.40,612.2 407.65,611.7 407.90,614.2 408.15,612.2 408.40,614.8 408.65,603.4 408.90,606.4 409.15,611.6 409.40,613.4 409.65,611.5 409.90,613.6 410.15,609.9 410.40,686.5 410.65,685.1 410.90,686.4 411.15,685.4 411.40,688.3 411.65,685.8 411.90,687.6 412.15,685.6 412.40,687.1 412.65,685.1 412.90,687.2 413.15,684.2 413.40,685.9 413.65,683.9 413.90,684.7 414.15,683.0 414.40,684.6 414.65,611.8 414.90,615.4 415.15,612.4 415.40,615.0 415.65,612.7 415.90,615.0 416.15,612.8 416.40,615.7 416.65,613.9 416.90,616.4 417.15,614.3 417.40,616.1 417.65,613.4 417.90,616.2 418.15,613.6 418.40,615.3 418.65,613.3 418.90,615.0 419.15,613.0 419.40,614.8 419.65,612.5 419.90,614.9 420.15,612.9 420.40,613.8 420.65,611.4 420.90,613.0 421.15,609.9 421.40,619.3 421.65,617.5 421.90,619.8 422.15,615.8 422.40,616.3 422.65,613.8 422.90,615.7 423.15,612.6 423.40,619.2 423.65,617.5 423.90,618.6 424.15,617.1 424.40,618.1 424.65,615.1 424.90,616.1 425.15,613.6 425.40,615.5 425.65,612.8 425.90,615.2 426.15,612.8 426.40,614.4 426.65,612.1 426.90,614.1 427.15,611.9 427.40,613.2 427.65,610.8 427.90,613.5 428.15,610.9 428.40,612.7 428.65,621.5 428.90,625.0 429.15,620.9 429.40,621.0 429.65,617.2 429.90,618.5 430.15,615.1 430.40,616.5 430.65,613.5 430.90,615.3 431.15,613.0 431.40,615.7 431.65,613.4 431.90,615.6 432.15,614.0 432.40,616.3 432.65,613.9 432.90,616.9 433.15,618.1 433.40,619.9 433.65,617.1 433.90,617.7 434.15,614.4 434.40,616.4 434.65,613.9 434.90,615.7 435.15,613.5 435.40,616.0 435.65,613.0 435.90,615.5 436.15,613.5 436.40,615.9 436.65,613.6 436.90,616.4 437.15,613.6 437.40,615.9 437.65,613.5 437.90,626.6 438.15,622.1 438.40,622.6 438.65,619.0 438.90,620.0 439.15,617.2 439.40,618.6 439.65,616.1 439.90,617.5 440.15,615.1 440.40,617.5 440.65,614.9 440.90,617.1 441.15,614.7 441.40,616.6 441.65,613.6 441.90,615.0 442.15,613.0 442.40,616.2 442.65,617.8 442.90,619.8 443.15,618.4 443.40,622.6 443.65,617.7 443.90,619.1 444.15,616.1 444.40,618.0 444.65,614.6 444.90,616.4 445.15,615.9 445.40,616.6 445.65,613.3 445.90,615.6 446.15,613.1 446.40,615.9 446.65,613.9 446.90,616.3 447.15,615.4 447.40,617.5 447.65,614.6 447.90,616.9 448.15,614.4 448.40,617.2 448.65,615.1 448.90,616.6 449.15,616.1 449.40,615.9 449.65,614.1 449.90,616.7 450.15,614.7 450.40,617.3 450.65,614.5 450.90,617.1 451.15,614.0 451.40,616.5 451.65,614.4 451.90,616.4 452.15,616.4 452.40,616.6 452.65,615.0 452.90,617.3 453.15,614.2 453.40,616.1 453.65,613.2 453.90,615.2 454.15,613.1 454.40,615.2 454.65,612.2 454.90,614.7 455.15,612.5 455.40,614.7 455.65,613.1 455.90,615.5 456.15,612.8 456.40,614.7 456.65,611.6 456.90,614.5 457.15,611.7 457.40,612.2 457.65,611.4 457.90,623.0 458.15,620.1 458.40,622.3 458.65,618.5 458.90,620.1 459.15,616.6 459.40,622.9 459.65,619.7 459.90,621.3 460.15,618.5 460.40,619.0 460.65,616.2 460.90,620.3 461.15,614.6 461.40,617.0 461.65,614.5 461.90,616.1 462.15,613.6 462.40,613.5 462.65,613.4 462.90,614.7 463.15,612.9 463.40,614.7 463.65,612.4 463.90,615.2 464.15,612.8 464.40,614.7 464.65,612.5 464.90,615.1 465.15,612.5 465.40,615.0 465.65,612.4 465.90,614.6 466.15,617.1 466.40,618.8 466.65,615.5 466.90,616.7 467.15,613.1 467.40,614.8 467.65,612.8 467.90,614.8 468.15,612.2 468.40,614.4 468.65,612.2 468.90,615.0 469.15,612.1 469.40,614.5 469.65,612.0 469.90,615.0 470.15,612.9 470.40,615.3 470.65,612.9 470.90,614.9 471.15,612.5 471.40,613.8 471.65,607.6 471.90,610.1 472.15,610.2 472.40,613.9 472.65,612.5 472.90,615.3 473.15,615.5 473.40,614.8 473.65,613.1 473.90,615.4 474.15,613.3 474.40,615.9 474.65,613.7 474.90,618.1 475.15,613.6 475.40,615.9 475.65,613.3 475.90,615.8 476.15,613.7 476.40,615.5 476.65,612.6 476.90,614.7 477.15,612.6 477.40,614.2 477.65,612.6 477.90,614.4 478.15,612.6 478.40,614.7 478.65,612.1 478.90,614.7 479.15,611.8 479.40,614.8 479.65,612.8 479.90,621.5 480.15,619.3 480.40,619.8 480.65,616.0 480.90,617.2 481.15,613.8 481.40,615.3 481.65,610.4 481.90,614.8 482.15,612.2 482.40,613.7 482.65,610.9 482.90,613.6 483.15,612.2 483.40,613.9 483.65,611.3 483.90,613.4 484.15,611.7 484.40,614.7 484.65,611.7 484.90,614.0 485.15,611.4 485.40,614.2 485.65,612.4 485.90,614.5 486.15,612.4 486.40,614.1 486.65,611.8 486.90,614.8 487.15,614.0 487.40,613.8 487.65,611.8 487.90,613.2 488.15,611.3 488.40,614.0 488.65,612.3 488.90,614.0 489.15,612.3 489.40,614.1 489.65,611.1 489.90,622.5 490.15,621.1 490.40,623.8 490.65,619.2 490.90,623.1 491.15,616.2 491.40,674.2 491.65,673.0 491.90,675.1 492.15,674.1 492.40,675.1 492.65,672.0 492.90,673.9 493.15,671.1 493.40,671.2 493.65,668.7 493.90,613.5 494.15,611.2 494.40,613.8 494.65,610.7 494.90,613.6 495.15,611.4 495.40,614.0 495.65,611.8 495.90,614.3 496.15,614.3 496.40,615.6 496.65,612.8 496.90,614.2 497.15,611.9 497.40,614.2 497.65,612.6 497.90,615.1 498.15,608.8 498.40,614.2 498.65,612.3 498.90,614.4 499.15,620.0 499.40,621.6 499.65,619.8 499.90,619.1 500.15,615.7 500.40,617.1 500.65,614.2 500.90,616.0 501.15,613.3 501.40,614.9 501.65,534.6 501.90,535.8 502.15,534.7 502.40,535.9 502.65,535.3 502.90,537.5 503.15,535.9 503.40,538.6 503.65,537.6 503.90,540.8 504.15,613.7 504.40,615.7 504.65,613.2 504.90,615.3 505.15,613.3 505.40,615.0 505.65,615.5 505.90,614.7 506.15,613.3 506.40,615.7 506.65,614.2 506.90,615.6 507.15,613.5 507.40,615.5 507.65,613.3 507.90,616.0 508.15,613.5 508.40,615.3 508.65,613.9 508.90,615.3 509.15,613.0 509.40,616.2 509.65,613.4 509.90,615.1 510.15,612.5 510.40,614.6 510.65,611.9 510.90,614.4 511.15,611.4 511.40,613.6 511.65,612.4 511.90,614.7 512.15,612.4 512.40,614.7 512.65,612.7 512.90,615.3 513.15,611.9 513.40,614.4 513.65,623.5 513.90,686.4 514.15,686.8 514.40,688.8 514.65,687.0 514.90,688.2 515.15,686.9 515.40,687.5 515.65,685.0 515.90,686.0 516.15,684.1 516.40,684.1 516.65,682.0 516.90,612.4 517.15,611.0 517.40,613.1 517.65,610.7 517.90,612.8 518.15,610.8 518.40,612.6 518.65,611.1 518.90,614.0 519.15,611.7 519.40,614.1 519.65,612.3 519.90,614.5 520.15,612.9 520.40,614.7 520.65,612.9 520.90,614.7 521.15,612.4 521.40,615.2 521.65,613.1 521.90,615.5 522.15,613.6 522.40,615.4 522.65,612.8 522.90,615.0 523.15,612.7 523.40,614.4 523.65,611.6 523.90,615.6 524.15,611.3 524.40,626.9 524.65,624.2 524.90,625.1 525.15,684.8 525.40,687.3 525.65,686.2 525.90,687.9 526.15,686.0 526.40,686.3 526.65,684.6 526.90,685.8 527.15,682.8 527.40,682.4 527.65,614.3 527.90,617.1 528.15,614.9 528.40,617.0 528.65,614.2 528.90,616.4 529.15,616.5 529.40,618.9 529.65,617.0 529.90,617.0 530.15,613.9 530.40,615.2 530.65,611.8 530.90,614.3 531.15,612.9 531.40,614.4 531.65,612.1 531.90,613.9 532.15,611.5 532.40,613.7 532.65,610.9 532.90,613.0 533.15,611.0 533.40,612.8 533.65,610.7 533.90,624.7 534.15,619.3 534.40,621.9 534.65,617.7 534.90,619.0 535.15,614.6 535.40,616.4 535.65,613.5 535.90,615.8 536.15,613.3 536.40,615.6 536.65,612.7 536.90,615.3 537.15,612.7 537.40,619.1 537.65,618.6 537.90,618.8 538.15,616.5 538.40,617.2 538.65,615.3 538.90,616.6 539.15,613.9 539.40,615.2 539.65,613.3 539.90,615.4 540.15,613.4 540.40,617.2 540.65,613.5 540.90,616.2 541.15,614.1 541.40,617.1 541.65,614.6 541.90,616.5 542.15,614.0 542.40,616.8 542.65,613.9 542.90,615.5 543.15,613.9 543.40,616.1 543.65,613.8 543.90,615.7 544.15,613.4 544.40,614.7 544.65,618.7 544.90,620.4 545.15,617.5 545.40,620.7 545.65,616.8 545.90,618.7 546.15,616.0 546.40,550.3 546.65,547.4 546.90,549.8 547.15,548.8 547.40,550.5 547.65,549.6 547.90,552.8 548.15,551.6 548.40,554.1 548.65,616.4 548.90,616.0 549.15,613.3 549.40,615.2 549.65,612.6 549.90,614.8 550.15,612.6 550.40,614.9 550.65,612.4 550.90,614.5 551.15,612.0 551.40,614.7 551.65,613.1 551.90,615.6 552.15,612.9 552.40,614.6 552.65,612.0 552.90,613.4 553.15,610.8 553.40,612.9 553.65,611.2 553.90,612.4 554.15,610.9 554.40,612.9 554.65,610.9 554.90,613.6 555.15,611.4 555.40,608.1 555.65,607.2 555.90,608.9 556.15,607.8 556.40,610.8 556.65,609.5 556.90,611.8 557.15,609.6 557.40,611.8 557.65,550.5 557.90,551.4 558.15,549.4 558.40,551.3 558.65,549.1 558.90,551.6 559.15,550.6 559.40,552.8 559.65,552.6 559.90,554.4 560.15,554.4 560.40,558.0 560.65,611.5 560.90,614.0 561.15,611.5 561.40,615.3 561.65,612.1 561.90,614.9 562.15,612.8 562.40,614.9 562.65,612.6 562.90,615.7 563.15,610.2 563.40,615.1 563.65,612.2 563.90,615.1 564.15,612.3 564.40,615.3 564.65,611.9 564.90,614.1 565.15,611.5 565.40,614.2 565.65,611.2 565.90,613.4 566.15,611.2 566.40,613.8 566.65,611.7 566.90,613.9 567.15,611.4 567.40,613.9 567.65,611.6 567.90,614.0 568.15,611.9 568.40,617.5 568.65,612.0 568.90,615.0 569.15,612.3 569.40,614.7 569.65,612.8 569.90,615.4 570.15,614.1 570.40,616.5 570.65,614.4 570.90,616.7 571.15,614.1 571.40,617.0 571.65,614.2 571.90,616.3 572.15,613.8 572.40,616.8 572.65,614.1 572.90,616.4 573.15,614.3 573.40,616.4 573.65,614.2 573.90,616.3 574.15,614.0 574.40,623.8 574.65,622.6 574.90,624.7 575.15,544.1 575.40,544.8 575.65,543.0 575.90,543.8 576.15,543.2 576.40,544.0 576.65,542.6 576.90,544.1 577.15,543.4 577.40,545.0 577.65,543.8 577.90,546.0 578.15,545.3 578.40,547.1 578.65,545.3 578.90,548.9 579.15,613.7 579.40,618.1 579.65,615.6 579.90,618.1 580.15,615.1 580.40,617.4 580.65,614.3 580.90,616.1 581.15,613.4 581.40,615.2 581.65,612.8 581.90,614.8 582.15,612.7 582.40,614.8 582.65,612.6 582.90,615.7 583.15,691.2 583.40,693.6 583.65,691.6 583.90,693.4 584.15,691.3 584.40,692.8 584.65,692.6 584.90,693.2 585.15,691.1 585.40,692.6 585.65,691.0 585.90,691.3 586.15,689.9 586.40,690.8 586.65,689.0 586.90,689.4 587.15,615.9 587.40,617.1 587.65,614.4 587.90,616.5 588.15,613.7 588.40,616.0 588.65,614.0 588.90,615.4 589.15,613.0 589.40,615.6 589.65,614.2 589.90,616.1 590.15,615.5 590.40,616.2 590.65,615.0 590.90,617.1 591.15,613.5 591.40,616.4 591.65,624.6 591.90,627.9 592.15,626.9 592.40,626.6 592.65,622.0 592.90,620.8 593.15,616.5 593.40,617.5 593.65,614.4 593.90,617.6 594.15,613.3 594.40,617.5 594.65,614.8 594.90,616.4 595.15,613.9 595.40,615.6 595.65,612.7 595.90,615.8 596.15,616.6 596.40,616.3 596.65,614.1 596.90,619.9 597.15,614.4 597.40,616.5 597.65,614.1 597.90,616.0 598.15,613.3 598.40,615.6 598.65,613.4 598.90,615.5 599.15,613.2 599.40,614.7 599.65,626.2 599.90,628.2 600.15,621.3 600.40,620.7 600.65,616.0 600.90,616.8 601.15,541.1 601.40,544.6 601.65,544.6 601.90,547.0 602.15,547.2 602.40,549.1 602.65,546.9 602.90,548.8 603.15,547.4 603.40,549.1 603.65,547.9 603.90,549.9 604.15,550.0 604.40,550.9 604.65,549.9 604.90,618.4 605.15,615.9 605.40,617.6 605.65,614.9 605.90,616.3 606.15,613.9 606.40,616.0 606.65,613.4 606.90,615.1 607.15,613.7 607.40,615.6 607.65,613.6 607.90,623.7 608.15,618.8 608.40,624.1 608.65,621.1 608.90,621.6 609.15,617.3 609.40,618.8 609.65,616.0 609.90,617.5 610.15,689.6 610.40,691.0 610.65,691.1 610.90,693.1 611.15,690.7 611.40,692.1 611.65,690.3 611.90,691.7 612.15,690.0 612.40,690.6 612.65,688.4 612.90,689.5 613.15,687.7 613.40,618.4 613.65,616.2 613.90,618.6 614.15,613.6 614.40,617.9 614.65,615.1 614.90,617.7 615.15,615.6 615.40,618.1 615.65,616.5 615.90,618.8 616.15,615.9 616.40,617.8 616.65,615.1 616.90,616.7 617.15,613.6 617.40,616.4 617.65,622.2 617.90,624.0 618.15,619.6 618.40,620.4 618.65,540.8 618.90,542.4 619.15,540.6 619.40,542.6 619.65,540.4 619.90,542.5 620.15,540.7 620.40,542.6 620.65,541.7 620.90,543.2 621.15,542.1 621.40,544.2 621.65,543.4 621.90,545.3 622.15,613.7 622.40,616.1 622.65,614.0 622.90,616.3 623.15,614.8 623.40,617.1 623.65,614.9 623.90,617.5 624.15,615.9 624.40,617.5 624.65,617.3 624.90,618.0 625.15,615.4 625.40,617.8 625.65,615.0 625.90,617.4 626.15,614.8 626.40,616.9 626.65,626.9 626.90,630.5 627.15,624.7 627.40,624.5 627.65,620.2 627.90,620.9 628.15,616.8 628.40,617.9 628.65,615.1 628.90,617.1 629.15,615.3 629.40,618.3 629.65,620.6 629.90,624.0 630.15,621.7 630.40,622.4 630.65,619.1 630.90,619.6 631.15,616.3 631.40,618.4 631.65,615.3 631.90,617.7 632.15,615.3 632.40,617.1 632.65,614.9 632.90,617.4 633.15,615.4 633.40,617.1 633.65,615.4 633.90,616.9 634.15,615.0 634.40,617.8 634.65,615.4 634.90,617.2 635.15,614.9 635.40,623.2 635.65,620.7 635.90,623.8 636.15,620.6 636.40,622.1 636.65,619.2 636.90,621.8 637.15,623.4 637.40,624.7 637.65,621.6 637.90,623.0 638.15,619.3 638.40,620.2 638.65,617.2 638.90,620.2 639.15,616.7 639.40,619.4 639.65,616.2 639.90,618.9 640.15,616.1 640.40,618.4 640.65,616.0 640.90,617.7 641.15,616.1 641.40,617.9 641.65,615.5 641.90,617.7 642.15,614.9 642.40,618.0 642.65,615.0 642.90,617.4 643.15,615.3 643.40,617.4 643.65,615.7 643.90,617.5 644.15,614.9 644.40,617.8 644.65,614.3 644.90,616.9 645.15,614.3 645.40,616.4 645.65,614.3 645.90,616.3 646.15,608.4 646.40,611.0 646.65,611.3 646.90,610.7 647.15,612.1 647.40,615.5 647.65,614.2 647.90,623.6 648.15,621.7 648.40,621.2 648.65,617.1 648.90,619.3 649.15,616.5 649.40,618.1 649.65,615.3 649.90,616.7 650.15,614.1 650.40,616.0 650.65,614.4 650.90,615.9 651.15,613.5 651.40,615.7 651.65,614.6 651.90,616.4 652.15,613.5 652.40,615.9 652.65,614.7 652.90,616.6 653.15,614.0 653.40,615.9 653.65,540.1 653.90,542.0 654.15,539.7 654.40,541.8 654.65,540.2 654.90,540.8 655.15,539.6 655.40,540.8" fill="none" stroke="#000" stroke-width="0.8" stroke-linejoin="round"/>
</g>
<g id="p4">
<path d="M232.40,761.00 V965.80 H678.10" fill="none" stroke="#4d4d4d" stroke-width="0.9"/>
<path d="M232.40,782.70 h4.5 M232.40,819.40 h4.5 M232.40,856.10 h4.5 M232.40,892.80 h4.5 M232.40,929.50 h4.5 M232.40,965.80 v-4.5 M321.54,965.80 v-4.5 M410.68,965.80 v-4.5 M499.82,965.80 v-4.5 M588.96,965.80 v-4.5 M678.10,965.80 v-4.5 " fill="none" stroke="#4d4d4d" stroke-width="0.9"/>
<text x="225.8" y="787.7" font-size="13.8" fill="#262626" text-anchor="end">10</text>
<text x="225.8" y="824.4" font-size="13.8" fill="#262626" text-anchor="end">5</text>
<text x="225.8" y="861.1" font-size="13.8" fill="#262626" text-anchor="end">0</text>
<text x="225.8" y="897.8" font-size="13.8" fill="#262626" text-anchor="end">-5</text>
<text x="225.8" y="934.5" font-size="13.8" fill="#262626" text-anchor="end">-10</text>
<text x="225.8" y="971.2" font-size="13.8" fill="#262626" text-anchor="end">-15</text>
<text x="231.4" y="982.9" font-size="13.8" fill="#262626" text-anchor="middle">0</text>
<text x="320.5" y="982.9" font-size="13.8" fill="#262626" text-anchor="middle">2</text>
<text x="409.7" y="982.9" font-size="13.8" fill="#262626" text-anchor="middle">4</text>
<text x="498.8" y="982.9" font-size="13.8" fill="#262626" text-anchor="middle">6</text>
<text x="588.0" y="982.9" font-size="13.8" fill="#262626" text-anchor="middle">8</text>
<text x="677.1" y="982.9" font-size="13.8" fill="#262626" text-anchor="middle">10</text>
<path d="M644.7,995.4 l7.2,7.2 M644.7,1002.6 l7.2,-7.2" stroke="#262626" stroke-width="0.85" fill="none"/>
<text x="653.2" y="1002.6" font-size="13.8" fill="#262626">10</text>
<text x="671.1" y="996.8" font-size="10.5" fill="#262626">4</text>
<text x="444.9" y="1000.8" font-size="14.7" fill="#262626" text-anchor="middle" textLength="150" lengthAdjust="spacingAndGlyphs">sample step (10 msec)</text>
<text transform="translate(199.8,865.5) rotate(-90)" font-size="14.7" fill="#262626" text-anchor="middle" textLength="126" lengthAdjust="spacingAndGlyphs">gaze position (deg)</text>
<text transform="translate(162.1,862.8) rotate(-90)" font-size="19.8" fill="#111" text-anchor="middle" textLength="117.5" lengthAdjust="spacingAndGlyphs">Vertical Gaze</text>
<path d="M239.9,841.4 V870.8 M249.5,841.4 V870.8 M260.4,841.4 V870.8 M272.2,841.4 V870.8 M283.3,841.4 V870.8 M294.7,841.4 V870.8 M305.0,841.4 V870.8 M318.0,841.4 V870.8 M328.9,841.4 V870.8 M339.8,841.4 V870.8 M458.4,841.4 V870.8 M468.3,841.4 V870.8 M480.8,841.4 V870.8 M491.4,841.4 V870.8 M501.3,841.4 V870.8 M514.7,841.4 V870.8 M525.6,841.4 V870.8 M535.6,841.4 V870.8 M546.5,841.4 V870.8 M558.5,841.4 V870.8 " fill="none" stroke="#5a7fcb" stroke-width="1.0"/>
<path d="M358.3,841.4 V870.8 M366.9,841.4 V870.8 M375.4,841.4 V870.8 M383.4,841.4 V870.8 M394.1,841.4 V870.8 M403.3,841.4 V870.8 M411.2,841.4 V870.8 M420.6,841.4 V870.8 M429.2,841.4 V870.8 M438.5,841.4 V870.8 M577.3,841.4 V870.8 M586.3,841.4 V870.8 M593.8,841.4 V870.8 M603.2,841.4 V870.8 M611.3,841.4 V870.8 M620.3,841.4 V870.8 M630.0,841.4 V870.8 M638.2,841.4 V870.8 M648.6,841.4 V870.8 M657.5,841.4 V870.8 " fill="none" stroke="#e66a68" stroke-width="1.0"/>
<path d="M232.40,860.9 232.65,856.0 232.90,860.7 233.15,857.5 233.40,860.2 233.65,854.8 233.90,858.9 234.15,854.0 234.40,858.5 234.65,854.3 234.90,858.6 235.15,853.6 235.40,857.3 235.65,853.4 235.90,862.6 236.15,853.0 236.40,860.4 236.65,851.4 236.90,856.4 237.15,853.4 237.40,858.0 237.65,854.4 237.90,858.7 238.15,854.7 238.40,858.5 238.65,854.1 238.90,858.8 239.15,853.9 239.40,857.9 239.65,853.9 239.90,861.9 240.15,852.2 240.40,852.7 240.65,848.6 240.90,853.3 241.15,932.5 241.40,937.2 241.65,934.8 241.90,939.5 242.15,933.6 242.40,938.5 242.65,931.8 242.90,937.4 243.15,931.2 243.40,932.4 243.65,929.1 243.90,930.3 244.15,856.8 244.40,860.7 244.65,857.4 244.90,860.5 245.15,857.9 245.40,859.3 245.65,855.9 245.90,859.5 246.15,856.3 246.40,860.5 246.65,855.6 246.90,859.9 247.15,854.2 247.40,858.3 247.65,854.1 247.90,857.6 248.15,854.1 248.40,857.2 248.65,853.5 248.90,857.4 249.15,853.8 249.40,857.7 249.65,854.0 249.90,857.8 250.15,848.8 250.40,851.8 250.65,799.6 250.90,801.9 251.15,796.9 251.40,801.6 251.65,796.8 251.90,800.9 252.15,796.7 252.40,801.7 252.65,799.2 252.90,803.1 253.15,799.5 253.40,804.4 253.65,801.8 253.90,806.4 254.15,858.1 254.40,862.1 254.65,857.1 254.90,859.6 255.15,856.6 255.40,860.3 255.65,857.4 255.90,861.6 256.15,856.7 256.40,864.3 256.65,860.1 256.90,864.9 257.15,860.4 257.40,864.3 257.65,860.2 257.90,863.7 258.15,858.1 258.40,862.8 258.65,858.6 258.90,863.1 259.15,858.1 259.40,860.1 259.65,855.8 259.90,861.7 260.15,858.6 260.40,862.0 260.65,859.7 260.90,863.4 261.15,863.6 261.40,867.1 261.65,861.8 261.90,863.0 262.15,855.6 262.40,859.7 262.65,854.3 262.90,860.0 263.15,853.6 263.40,856.4 263.65,851.4 263.90,855.7 264.15,852.9 264.40,856.9 264.65,854.2 264.90,858.5 265.15,854.7 265.40,858.8 265.65,855.1 265.90,859.2 266.15,856.2 266.40,860.5 266.65,854.8 266.90,859.8 267.15,859.6 267.40,863.7 267.65,860.3 267.90,865.1 268.15,861.0 268.40,864.0 268.65,857.6 268.90,860.9 269.15,856.1 269.40,858.9 269.65,854.2 269.90,858.4 270.15,853.2 270.40,858.2 270.65,853.4 270.90,856.4 271.15,852.4 271.40,855.4 271.65,852.8 271.90,856.0 272.15,851.7 272.40,850.3 272.65,851.7 272.90,860.8 273.15,856.4 273.40,860.9 273.65,856.3 273.90,861.9 274.15,857.3 274.40,861.3 274.65,856.6 274.90,860.5 275.15,856.1 275.40,859.1 275.65,853.5 275.90,857.8 276.15,855.0 276.40,859.4 276.65,856.0 276.90,859.8 277.15,855.2 277.40,854.5 277.65,855.3 277.90,859.9 278.15,856.2 278.40,859.9 278.65,856.5 278.90,859.0 279.15,855.4 279.40,858.3 279.65,854.4 279.90,858.6 280.15,854.9 280.40,858.6 280.65,854.9 280.90,858.9 281.15,854.6 281.40,860.1 281.65,855.1 281.90,860.4 282.15,856.9 282.40,861.2 282.65,857.3 282.90,861.4 283.15,856.2 283.40,860.4 283.65,855.5 283.90,859.3 284.15,860.4 284.40,859.6 284.65,806.6 284.90,809.1 285.15,804.7 285.40,809.4 285.65,804.7 285.90,810.3 286.15,805.2 286.40,809.7 286.65,806.0 286.90,810.9 287.15,806.4 287.40,811.7 287.65,809.6 287.90,814.7 288.15,811.2 288.40,860.3 288.65,856.9 288.90,860.2 289.15,855.3 289.40,858.1 289.65,854.7 289.90,859.7 290.15,856.0 290.40,859.9 290.65,857.1 290.90,860.0 291.15,855.5 291.40,859.4 291.65,854.3 291.90,859.0 292.15,855.4 292.40,859.9 292.65,855.5 292.90,860.7 293.15,857.6 293.40,861.5 293.65,857.3 293.90,862.2 294.15,852.1 294.40,859.4 294.65,855.6 294.90,858.2 295.15,854.8 295.40,858.6 295.65,856.0 295.90,860.0 296.15,860.6 296.40,798.3 296.65,795.4 296.90,798.8 297.15,795.3 297.40,798.6 297.65,793.6 297.90,800.0 298.15,795.1 298.40,799.5 298.65,796.7 298.90,801.4 299.15,797.6 299.40,802.9 299.65,852.1 299.90,856.7 300.15,852.4 300.40,857.9 300.65,853.9 300.90,858.3 301.15,853.2 301.40,855.7 301.65,852.6 301.90,855.8 302.15,851.0 302.40,855.1 302.65,851.7 302.90,854.8 303.15,851.7 303.40,855.9 303.65,851.7 303.90,856.9 304.15,854.0 304.40,858.2 304.65,853.4 304.90,856.1 305.15,852.4 305.40,857.1 305.65,852.2 305.90,856.8 306.15,850.5 306.40,854.0 306.65,847.8 306.90,851.4 307.15,848.8 307.40,852.4 307.65,849.2 307.90,854.3 308.15,850.2 308.40,852.9 308.65,848.9 308.90,853.8 309.15,850.3 309.40,854.6 309.65,851.2 309.90,856.0 310.15,853.2 310.40,857.5 310.65,853.8 310.90,857.9 311.15,855.8 311.40,859.3 311.65,855.0 311.90,859.2 312.15,854.9 312.40,858.1 312.65,854.8 312.90,859.7 313.15,856.2 313.40,860.8 313.65,857.6 313.90,861.2 314.15,857.6 314.40,861.5 314.65,856.6 314.90,860.4 315.15,856.4 315.40,860.1 315.65,854.7 315.90,864.0 316.15,856.3 316.40,860.9 316.65,856.7 316.90,861.2 317.15,856.4 317.40,855.0 317.65,855.3 317.90,859.1 318.15,855.5 318.40,858.5 318.65,859.4 318.90,864.6 319.15,860.0 319.40,863.5 319.65,930.3 319.90,935.3 320.15,932.5 320.40,936.4 320.65,931.3 320.90,934.5 321.15,931.6 321.40,934.0 321.65,928.6 321.90,931.8 322.15,926.4 322.40,926.6 322.65,852.0 322.90,856.6 323.15,851.1 323.40,857.7 323.65,853.4 323.90,857.6 324.15,855.2 324.40,859.8 324.65,854.5 324.90,858.9 325.15,854.2 325.40,857.3 325.65,853.8 325.90,857.1 326.15,852.2 326.40,857.6 326.65,853.3 326.90,856.9 327.15,853.8 327.40,858.2 327.65,853.8 327.90,857.2 328.15,853.3 328.40,857.7 328.65,854.3 328.90,857.5 329.15,854.4 329.40,858.8 329.65,860.7 329.90,859.4 330.15,853.1 330.40,856.1 330.65,811.2 330.90,812.8 331.15,809.4 331.40,813.0 331.65,809.7 331.90,813.4 332.15,808.9 332.40,814.4 332.65,809.9 332.90,813.4 333.15,811.1 333.40,814.3 333.65,812.9 333.90,815.6 334.15,812.8 334.40,818.0 334.65,856.6 334.90,860.4 335.15,856.5 335.40,858.3 335.65,853.7 335.90,858.0 336.15,853.5 336.40,856.8 336.65,853.3 336.90,858.8 337.15,855.5 337.40,859.9 337.65,855.4 337.90,860.4 338.15,856.5 338.40,860.0 338.65,856.1 338.90,860.3 339.15,854.8 339.40,859.2 339.65,854.0 339.90,859.7 340.15,854.8 340.40,858.1 340.65,853.4 340.90,856.4 341.15,852.1 341.40,856.6 341.65,845.7 341.90,847.2 342.15,840.1 342.40,842.3 342.65,837.9 342.90,842.4 343.15,839.4 343.40,846.7 343.65,847.6 343.90,855.8 344.15,852.7 344.40,858.0 344.65,855.1 344.90,859.1 345.15,854.4 345.40,858.8 345.65,855.5 345.90,859.8 346.15,856.0 346.40,860.0 346.65,854.5 346.90,857.6 347.15,858.0 347.40,859.9 347.65,857.0 347.90,861.4 348.15,856.0 348.40,860.5 348.65,856.1 348.90,859.5 349.15,856.4 349.40,861.9 349.65,857.7 349.90,862.4 350.15,859.2 350.40,861.1 350.65,860.7 350.90,860.9 351.15,856.0 351.40,860.3 351.65,855.7 351.90,859.4 352.15,855.9 352.40,860.6 352.65,856.1 352.90,860.9 353.15,857.3 353.40,861.5 353.65,861.4 353.90,860.2 354.15,857.1 354.40,860.5 354.65,856.4 354.90,862.0 355.15,857.9 355.40,860.4 355.65,856.2 355.90,859.3 356.15,855.8 356.40,858.7 356.65,852.4 356.90,857.6 357.15,853.5 357.40,857.9 357.65,854.2 357.90,865.0 358.15,855.0 358.40,859.3 358.65,936.1 358.90,940.7 359.15,937.1 359.40,942.1 359.65,938.8 359.90,940.6 360.15,938.3 360.40,940.3 360.65,936.0 360.90,940.3 361.15,935.7 361.40,939.2 361.65,933.8 361.90,937.0 362.15,931.8 362.40,856.2 362.65,854.2 362.90,858.9 363.15,858.9 363.40,863.7 363.65,855.2 363.90,859.4 364.15,855.9 364.40,858.9 364.65,852.8 364.90,856.5 365.15,853.3 365.40,858.6 365.65,854.4 365.90,861.1 366.15,856.0 366.40,859.6 366.65,855.9 366.90,864.1 367.15,855.8 367.40,859.3 367.65,781.9 367.90,784.8 368.15,780.2 368.40,784.0 368.65,780.1 368.90,784.1 369.15,781.5 369.40,785.4 369.65,781.4 369.90,785.9 370.15,783.6 370.40,787.4 370.65,784.8 370.90,856.0 371.15,853.4 371.40,857.2 371.65,853.0 371.90,857.8 372.15,853.5 372.40,857.4 372.65,853.5 372.90,862.8 373.15,854.4 373.40,857.9 373.65,854.9 373.90,860.1 374.15,855.7 374.40,859.7 374.65,855.7 374.90,859.8 375.15,855.8 375.40,860.5 375.65,855.7 375.90,859.4 376.15,847.2 376.40,851.0 376.65,845.4 376.90,845.3 377.15,841.4 377.40,843.0 377.65,840.7 377.90,843.2 378.15,838.3 378.40,841.6 378.65,838.8 378.90,842.2 379.15,838.3 379.40,845.4 379.65,841.5 379.90,848.5 380.15,846.0 380.40,850.3 380.65,849.7 380.90,860.6 381.15,856.8 381.40,861.2 381.65,862.3 381.90,867.4 382.15,863.7 382.40,867.5 382.65,864.3 382.90,865.7 383.15,859.0 383.40,861.9 383.65,856.7 383.90,861.7 384.15,856.7 384.40,857.1 384.65,851.7 384.90,855.4 385.15,859.3 385.40,863.8 385.65,858.8 385.90,861.3 386.15,856.0 386.40,858.7 386.65,854.6 386.90,856.7 387.15,853.1 387.40,857.0 387.65,853.6 387.90,855.2 388.15,850.6 388.40,855.4 388.65,854.8 388.90,855.1 389.15,850.6 389.40,857.3 389.65,853.2 389.90,856.9 390.15,852.9 390.40,858.4 390.65,854.6 390.90,859.9 391.15,855.7 391.40,859.6 391.65,857.6 391.90,858.9 392.15,855.6 392.40,859.1 392.65,854.5 392.90,858.8 393.15,855.9 393.40,861.5 393.65,855.9 393.90,860.2 394.15,856.3 394.40,860.9 394.65,856.6 394.90,942.2 395.15,939.1 395.40,943.7 395.65,939.2 395.90,944.6 396.15,938.8 396.40,943.1 396.65,938.9 396.90,941.9 397.15,937.7 397.40,941.4 397.65,935.1 397.90,938.7 398.15,852.9 398.40,855.6 398.65,850.9 398.90,855.3 399.15,850.7 399.40,854.8 399.65,851.5 399.90,856.0 400.15,853.5 400.40,859.4 400.65,857.0 400.90,861.2 401.15,857.0 401.40,860.9 401.65,857.6 401.90,861.4 402.15,857.9 402.40,861.8 402.65,856.9 402.90,860.1 403.15,854.2 403.40,857.6 403.65,854.7 403.90,852.5 404.15,844.6 404.40,846.2 404.65,841.2 404.90,843.7 405.15,839.9 405.40,841.2 405.65,838.4 405.90,844.0 406.15,841.7 406.40,847.0 406.65,848.2 406.90,855.2 407.15,853.5 407.40,858.4 407.65,854.9 407.90,859.6 408.15,855.2 408.40,860.7 408.65,855.9 408.90,860.2 409.15,856.0 409.40,861.1 409.65,855.9 409.90,860.6 410.15,857.6 410.40,860.7 410.65,856.5 410.90,861.4 411.15,856.3 411.40,859.3 411.65,860.7 411.90,853.9 412.15,845.7 412.40,845.4 412.65,841.8 412.90,844.8 413.15,838.0 413.40,842.2 413.65,839.6 413.90,839.6 414.15,837.0 414.40,841.6 414.65,839.2 414.90,842.1 415.15,839.9 415.40,844.0 415.65,841.0 415.90,846.8 416.15,846.2 416.40,853.0 416.65,855.9 416.90,861.9 417.15,857.4 417.40,860.3 417.65,857.0 417.90,860.9 418.15,856.2 418.40,860.8 418.65,856.6 418.90,861.0 419.15,857.5 419.40,860.9 419.65,858.1 419.90,862.1 420.15,858.2 420.40,861.7 420.65,856.7 420.90,862.1 421.15,857.9 421.40,946.1 421.65,942.2 421.90,946.0 422.15,942.6 422.40,946.4 422.65,942.9 422.90,946.6 423.15,941.7 423.40,944.3 423.65,939.9 423.90,943.9 424.15,938.9 424.40,941.4 424.65,856.0 424.90,859.4 425.15,860.2 425.40,863.7 425.65,859.1 425.90,861.9 426.15,856.4 426.40,863.7 426.65,854.6 426.90,857.9 427.15,854.2 427.40,859.7 427.65,855.6 427.90,860.1 428.15,855.4 428.40,859.9 428.65,855.3 428.90,860.4 429.15,855.3 429.40,858.8 429.65,855.6 429.90,859.8 430.15,939.5 430.40,945.6 430.65,941.4 430.90,945.5 431.15,941.9 431.40,945.8 431.65,942.9 431.90,945.3 432.15,940.0 432.40,943.5 432.65,939.1 432.90,941.0 433.15,937.9 433.40,941.2 433.65,852.0 433.90,857.4 434.15,853.8 434.40,858.8 434.65,855.5 434.90,859.9 435.15,854.9 435.40,854.6 435.65,854.2 435.90,857.3 436.15,852.9 436.40,856.8 436.65,853.5 436.90,863.2 437.15,854.6 437.40,859.1 437.65,854.3 437.90,856.2 438.15,852.6 438.40,856.3 438.65,851.1 438.90,856.4 439.15,852.5 439.40,782.8 439.65,779.1 439.90,782.1 440.15,777.2 440.40,781.3 440.65,778.7 440.90,781.9 441.15,778.8 441.40,781.7 441.65,779.2 441.90,784.2 442.15,779.9 442.40,786.1 442.65,781.9 442.90,786.0 443.15,784.2 443.40,787.6 443.65,835.5 443.90,845.1 444.15,845.4 444.40,852.7 444.65,850.6 444.90,857.0 445.15,853.5 445.40,858.6 445.65,854.7 445.90,857.8 446.15,854.7 446.40,859.7 446.65,855.4 446.90,860.8 447.15,855.7 447.40,858.6 447.65,854.8 447.90,859.7 448.15,856.1 448.40,858.9 448.65,855.5 448.90,858.5 449.15,855.1 449.40,858.3 449.65,853.9 449.90,858.0 450.15,853.3 450.40,856.7 450.65,854.4 450.90,859.1 451.15,854.8 451.40,859.7 451.65,853.6 451.90,857.3 452.15,851.8 452.40,856.5 452.65,853.2 452.90,856.8 453.15,853.9 453.40,857.8 453.65,852.9 453.90,858.7 454.15,855.0 454.40,858.7 454.65,853.6 454.90,858.2 455.15,855.5 455.40,859.3 455.65,854.8 455.90,860.0 456.15,855.6 456.40,860.4 456.65,855.9 456.90,860.5 457.15,855.9 457.40,859.4 457.65,857.1 457.90,939.4 458.15,935.8 458.40,939.9 458.65,936.4 458.90,938.9 459.15,935.2 459.40,935.6 459.65,931.3 459.90,933.0 460.15,855.2 460.40,857.9 460.65,852.5 460.90,856.4 461.15,883.6 461.40,887.8 461.65,885.4 461.90,889.2 462.15,883.8 462.40,887.5 462.65,882.5 462.90,884.6 463.15,879.3 463.40,880.3 463.65,853.0 463.90,857.8 464.15,856.0 464.40,858.8 464.65,855.3 464.90,859.0 465.15,855.4 465.40,859.8 465.65,857.0 465.90,860.7 466.15,857.6 466.40,859.6 466.65,856.5 466.90,861.1 467.15,860.8 467.40,859.0 467.65,858.7 467.90,858.9 468.15,855.5 468.40,860.4 468.65,862.7 468.90,867.3 469.15,862.8 469.40,869.6 469.65,865.1 469.90,862.2 470.15,861.3 470.40,866.1 470.65,860.2 470.90,869.6 471.15,858.4 471.40,859.8 471.65,941.2 471.90,946.2 472.15,942.6 472.40,946.2 472.65,942.2 472.90,946.1 473.15,941.7 473.40,943.4 473.65,937.8 473.90,940.7 474.15,935.9 474.40,858.2 474.65,854.4 474.90,857.9 475.15,854.1 475.40,858.0 475.65,854.6 475.90,858.8 476.15,853.0 476.40,857.3 476.65,852.4 476.90,857.3 477.15,853.6 477.40,857.9 477.65,855.2 477.90,863.5 478.15,855.5 478.40,855.5 478.65,855.5 478.90,860.0 479.15,856.0 479.40,859.6 479.65,853.9 479.90,858.7 480.15,854.2 480.40,857.6 480.65,853.9 480.90,856.7 481.15,852.9 481.40,858.4 481.65,854.3 481.90,861.1 482.15,856.1 482.40,863.5 482.65,856.2 482.90,861.1 483.15,857.5 483.40,861.1 483.65,801.0 483.90,804.1 484.15,800.6 484.40,804.8 484.65,800.5 484.90,804.3 485.15,800.1 485.40,804.7 485.65,802.5 485.90,806.1 486.15,803.6 486.40,808.6 486.65,804.2 486.90,858.6 487.15,853.9 487.40,858.5 487.65,853.5 487.90,858.5 488.15,855.9 488.40,860.4 488.65,855.3 488.90,861.0 489.15,856.8 489.40,861.3 489.65,857.4 489.90,862.1 490.15,857.6 490.40,862.0 490.65,858.3 490.90,857.5 491.15,857.1 491.40,860.0 491.65,862.4 491.90,861.2 492.15,858.1 492.40,861.9 492.65,859.3 492.90,860.7 493.15,854.2 493.40,857.0 493.65,848.2 493.90,854.3 494.15,849.1 494.40,853.1 494.65,848.6 494.90,850.6 495.15,845.4 495.40,851.0 495.65,848.4 495.90,859.1 496.15,854.9 496.40,859.3 496.65,856.8 496.90,861.4 497.15,856.3 497.40,860.6 497.65,856.8 497.90,861.1 498.15,856.7 498.40,860.6 498.65,856.5 498.90,860.0 499.15,856.6 499.40,860.3 499.65,855.0 499.90,860.3 500.15,855.2 500.40,858.6 500.65,855.1 500.90,858.6 501.15,854.6 501.40,859.2 501.65,855.2 501.90,857.5 502.15,852.4 502.40,856.1 502.65,850.0 502.90,852.7 503.15,848.6 503.40,853.6 503.65,849.2 503.90,854.9 504.15,851.7 504.40,856.0 504.65,852.4 504.90,856.9 505.15,853.3 505.40,859.0 505.65,855.7 505.90,860.1 506.15,856.5 506.40,862.2 506.65,859.0 506.90,871.5 507.15,862.8 507.40,865.0 507.65,860.2 507.90,862.2 508.15,858.6 508.40,862.1 508.65,858.5 508.90,862.2 509.15,859.7 509.40,863.3 509.65,859.7 509.90,864.0 510.15,858.4 510.40,864.4 510.65,860.1 510.90,863.4 511.15,858.5 511.40,864.1 511.65,860.4 511.90,865.3 512.15,860.5 512.40,864.4 512.65,859.4 512.90,861.7 513.15,862.4 513.40,861.8 513.65,857.2 513.90,862.9 514.15,858.9 514.40,861.9 514.65,858.5 514.90,862.7 515.15,854.3 515.40,859.5 515.65,862.0 515.90,859.9 516.15,856.6 516.40,860.6 516.65,855.3 516.90,859.0 517.15,853.0 517.40,856.6 517.65,851.9 517.90,851.8 518.15,841.0 518.40,842.4 518.65,839.3 518.90,843.3 519.15,843.8 519.40,857.0 519.65,853.0 519.90,857.2 520.15,854.7 520.40,859.4 520.65,853.9 520.90,857.1 521.15,853.8 521.40,858.4 521.65,855.2 521.90,859.5 522.15,854.7 522.40,859.7 522.65,855.9 522.90,861.6 523.15,856.8 523.40,859.2 523.65,855.2 523.90,858.5 524.15,855.6 524.40,857.9 524.65,857.7 524.90,857.5 525.15,847.8 525.40,855.1 525.65,850.8 525.90,854.1 526.15,851.5 526.40,854.3 526.65,849.9 526.90,852.6 527.15,848.0 527.40,854.7 527.65,849.9 527.90,853.4 528.15,848.9 528.40,853.8 528.65,848.9 528.90,852.7 529.15,841.5 529.40,843.2 529.65,838.3 529.90,845.8 530.15,845.0 530.40,857.6 530.65,853.5 530.90,858.6 531.15,855.7 531.40,859.2 531.65,856.0 531.90,860.2 532.15,856.1 532.40,859.8 532.65,852.8 532.90,856.0 533.15,852.9 533.40,858.2 533.65,854.2 533.90,859.1 534.15,854.0 534.40,859.5 534.65,856.2 534.90,860.1 535.15,854.8 535.40,859.2 535.65,855.2 535.90,859.9 536.15,854.4 536.40,860.6 536.65,856.4 536.90,860.0 537.15,855.6 537.40,863.8 537.65,858.8 537.90,862.8 538.15,855.5 538.40,859.1 538.65,853.6 538.90,926.8 539.15,923.7 539.40,926.7 539.65,922.1 539.90,927.8 540.15,922.5 540.40,923.7 540.65,919.2 540.90,919.5 541.15,855.2 541.40,857.9 541.65,853.5 541.90,856.1 542.15,851.2 542.40,851.1 542.65,850.6 542.90,856.8 543.15,853.0 543.40,856.6 543.65,853.0 543.90,857.5 544.15,852.7 544.40,856.0 544.65,851.7 544.90,856.4 545.15,854.1 545.40,859.5 545.65,854.2 545.90,858.8 546.15,855.2 546.40,859.4 546.65,856.3 546.90,861.0 547.15,857.0 547.40,860.5 547.65,853.7 547.90,857.0 548.15,851.3 548.40,858.1 548.65,851.0 548.90,855.6 549.15,851.4 549.40,856.4 549.65,853.2 549.90,857.2 550.15,852.3 550.40,854.9 550.65,851.4 550.90,855.1 551.15,847.7 551.40,852.5 551.65,849.4 551.90,853.6 552.15,850.6 552.40,855.9 552.65,853.4 552.90,857.5 553.15,854.0 553.40,858.7 553.65,855.5 553.90,858.2 554.15,854.5 554.40,859.7 554.65,854.8 554.90,859.9 555.15,856.4 555.40,860.7 555.65,857.1 555.90,860.7 556.15,856.9 556.40,861.9 556.65,856.6 556.90,858.9 557.15,854.8 557.40,858.7 557.65,851.1 557.90,860.0 558.15,855.0 558.40,859.7 558.65,854.8 558.90,859.2 559.15,854.2 559.40,858.3 559.65,854.3 559.90,857.2 560.15,849.9 560.40,854.8 560.65,850.1 560.90,854.3 561.15,850.0 561.40,859.1 561.65,849.6 561.90,853.6 562.15,850.6 562.40,855.1 562.65,851.6 562.90,855.8 563.15,852.0 563.40,856.1 563.65,851.0 563.90,856.1 564.15,851.0 564.40,855.1 564.65,851.7 564.90,855.8 565.15,851.7 565.40,855.9 565.65,852.8 565.90,857.2 566.15,853.6 566.40,858.0 566.65,853.3 566.90,858.0 567.15,854.9 567.40,858.8 567.65,854.2 567.90,859.6 568.15,855.0 568.40,858.1 568.65,854.0 568.90,853.0 569.15,855.5 569.40,860.4 569.65,855.5 569.90,858.3 570.15,853.9 570.40,857.3 570.65,854.0 570.90,858.0 571.15,854.0 571.40,856.2 571.65,852.9 571.90,857.3 572.15,853.0 572.40,857.0 572.65,852.8 572.90,856.0 573.15,852.0 573.40,856.4 573.65,852.4 573.90,855.2 574.15,850.7 574.40,856.4 574.65,852.2 574.90,856.7 575.15,852.6 575.40,857.1 575.65,853.8 575.90,857.9 576.15,852.9 576.40,857.1 576.65,852.0 576.90,857.6 577.15,852.9 577.40,856.1 577.65,852.1 577.90,855.2 578.15,845.4 578.40,853.4 578.65,849.0 578.90,851.3 579.15,847.1 579.40,852.0 579.65,848.2 579.90,848.4 580.15,844.4 580.40,849.0 580.65,847.0 580.90,850.1 581.15,846.5 581.40,850.5 581.65,847.1 581.90,851.5 582.15,847.7 582.40,850.8 582.65,847.0 582.90,851.2 583.15,849.7 583.40,854.6 583.65,854.0 583.90,857.6 584.15,853.5 584.40,853.8 584.65,848.8 584.90,853.1 585.15,848.5 585.40,853.6 585.65,850.2 585.90,853.9 586.15,850.8 586.40,854.8 586.65,849.7 586.90,852.6 587.15,841.0 587.40,843.8 587.65,836.5 587.90,841.1 588.15,836.2 588.40,838.2 588.65,834.5 588.90,840.6 589.15,836.6 589.40,840.8 589.65,838.3 589.90,839.4 590.15,837.9 590.40,847.0 590.65,843.7 590.90,848.8 591.15,844.6 591.40,849.6 591.65,846.6 591.90,851.9 592.15,846.8 592.40,852.1 592.65,847.7 592.90,852.8 593.15,849.9 593.40,852.7 593.65,848.7 593.90,853.8 594.15,849.7 594.40,852.7 594.65,849.1 594.90,851.4 595.15,846.2 595.40,850.8 595.65,845.0 595.90,847.0 596.15,843.6 596.40,847.1 596.65,779.3 596.90,781.8 597.15,778.2 597.40,781.8 597.65,777.6 597.90,779.9 598.15,778.5 598.40,782.2 598.65,778.7 598.90,782.7 599.15,780.0 599.40,782.6 599.65,779.4 599.90,784.9 600.15,780.9 600.40,786.1 600.65,782.5 600.90,854.2 601.15,849.8 601.40,853.0 601.65,850.7 601.90,855.5 602.15,851.5 602.40,854.3 602.65,850.1 602.90,854.9 603.15,853.4 603.40,854.1 603.65,849.7 603.90,854.6 604.15,847.9 604.40,850.9 604.65,846.3 604.90,851.0 605.15,847.5 605.40,849.7 605.65,849.7 605.90,853.1 606.15,847.4 606.40,854.5 606.65,847.2 606.90,856.3 607.15,849.0 607.40,858.5 607.65,854.6 607.90,858.8 608.15,852.8 608.40,856.2 608.65,850.6 608.90,854.2 609.15,849.1 609.40,853.2 609.65,848.6 609.90,853.1 610.15,849.0 610.40,853.9 610.65,851.3 610.90,856.0 611.15,852.3 611.40,856.7 611.65,851.8 611.90,855.3 612.15,856.6 612.40,861.3 612.65,856.8 612.90,857.1 613.15,853.8 613.40,854.2 613.65,849.6 613.90,853.2 614.15,847.9 614.40,844.9 614.65,839.7 614.90,843.7 615.15,838.2 615.40,838.6 615.65,834.4 615.90,840.2 616.15,834.2 616.40,837.4 616.65,832.2 616.90,838.4 617.15,835.7 617.40,840.9 617.65,838.3 617.90,845.6 618.15,842.4 618.40,846.5 618.65,843.7 618.90,855.5 619.15,851.0 619.40,853.8 619.65,848.9 619.90,853.1 620.15,847.8 620.40,851.8 620.65,847.8 620.90,850.5 621.15,845.8 621.40,851.8 621.65,846.5 621.90,850.9 622.15,847.4 622.40,850.3 622.65,846.4 622.90,851.3 623.15,846.6 623.40,851.0 623.65,846.6 623.90,850.2 624.15,846.9 624.40,851.6 624.65,846.6 624.90,854.2 625.15,847.9 625.40,852.1 625.65,846.6 625.90,850.9 626.15,846.9 626.40,851.8 626.65,848.8 626.90,852.1 627.15,848.5 627.40,852.0 627.65,847.8 627.90,851.2 628.15,850.5 628.40,851.2 628.65,846.8 628.90,852.5 629.15,848.2 629.40,853.2 629.65,849.2 629.90,854.0 630.15,849.0 630.40,852.8 630.65,850.0 630.90,866.2 631.15,856.4 631.40,862.6 631.65,854.6 631.90,855.1 632.15,777.9 632.40,780.8 632.65,777.8 632.90,780.4 633.15,776.8 633.40,781.1 633.65,777.6 633.90,780.1 634.15,775.9 634.40,780.9 634.65,777.5 634.90,781.5 635.15,777.1 635.40,781.8 635.65,778.1 635.90,782.0 636.15,779.5 636.40,785.3 636.65,782.0 636.90,785.5 637.15,848.6 637.40,852.8 637.65,849.9 637.90,859.5 638.15,849.7 638.40,853.9 638.65,849.6 638.90,851.3 639.15,846.5 639.40,851.6 639.65,848.5 639.90,853.5 640.15,849.0 640.40,853.2 640.65,849.9 640.90,947.3 641.15,940.2 641.40,944.1 641.65,936.7 641.90,937.3 642.15,933.8 642.40,936.9 642.65,932.2 642.90,936.6 643.15,932.3 643.40,937.1 643.65,931.0 643.90,934.6 644.15,930.2 644.40,934.2 644.65,930.2 644.90,932.7 645.15,927.7 645.40,852.9 645.65,849.7 645.90,853.8 646.15,850.0 646.40,853.3 646.65,849.7 646.90,853.9 647.15,849.8 647.40,854.1 647.65,850.6 647.90,853.9 648.15,849.5 648.40,853.8 648.65,848.9 648.90,851.9 649.15,846.7 649.40,850.3 649.65,851.9 649.90,784.2 650.15,780.5 650.40,784.3 650.65,778.2 650.90,783.4 651.15,780.2 651.40,782.2 651.65,780.0 651.90,783.2 652.15,780.4 652.40,785.6 652.65,782.1 652.90,786.3 653.15,782.0 653.40,786.7 653.65,784.5 653.90,789.2 654.15,849.4 654.40,853.1 654.65,848.4 654.90,853.2 655.15,850.2 655.40,854.6 655.65,849.1 655.90,854.1 656.15,850.2 656.40,851.9 656.65,847.9 656.90,851.6 657.15,848.0 657.40,852.2 657.65,849.0 657.90,859.2 658.15,856.4 658.40,859.7 658.65,853.5 658.90,857.6 659.15,852.5 659.40,855.2 659.65,850.3 659.90,852.1 660.15,848.8 660.40,853.5 660.65,849.7 660.90,853.9" fill="none" stroke="#000" stroke-width="0.8" stroke-linejoin="round"/>
</g>
</svg>
</body></html>
